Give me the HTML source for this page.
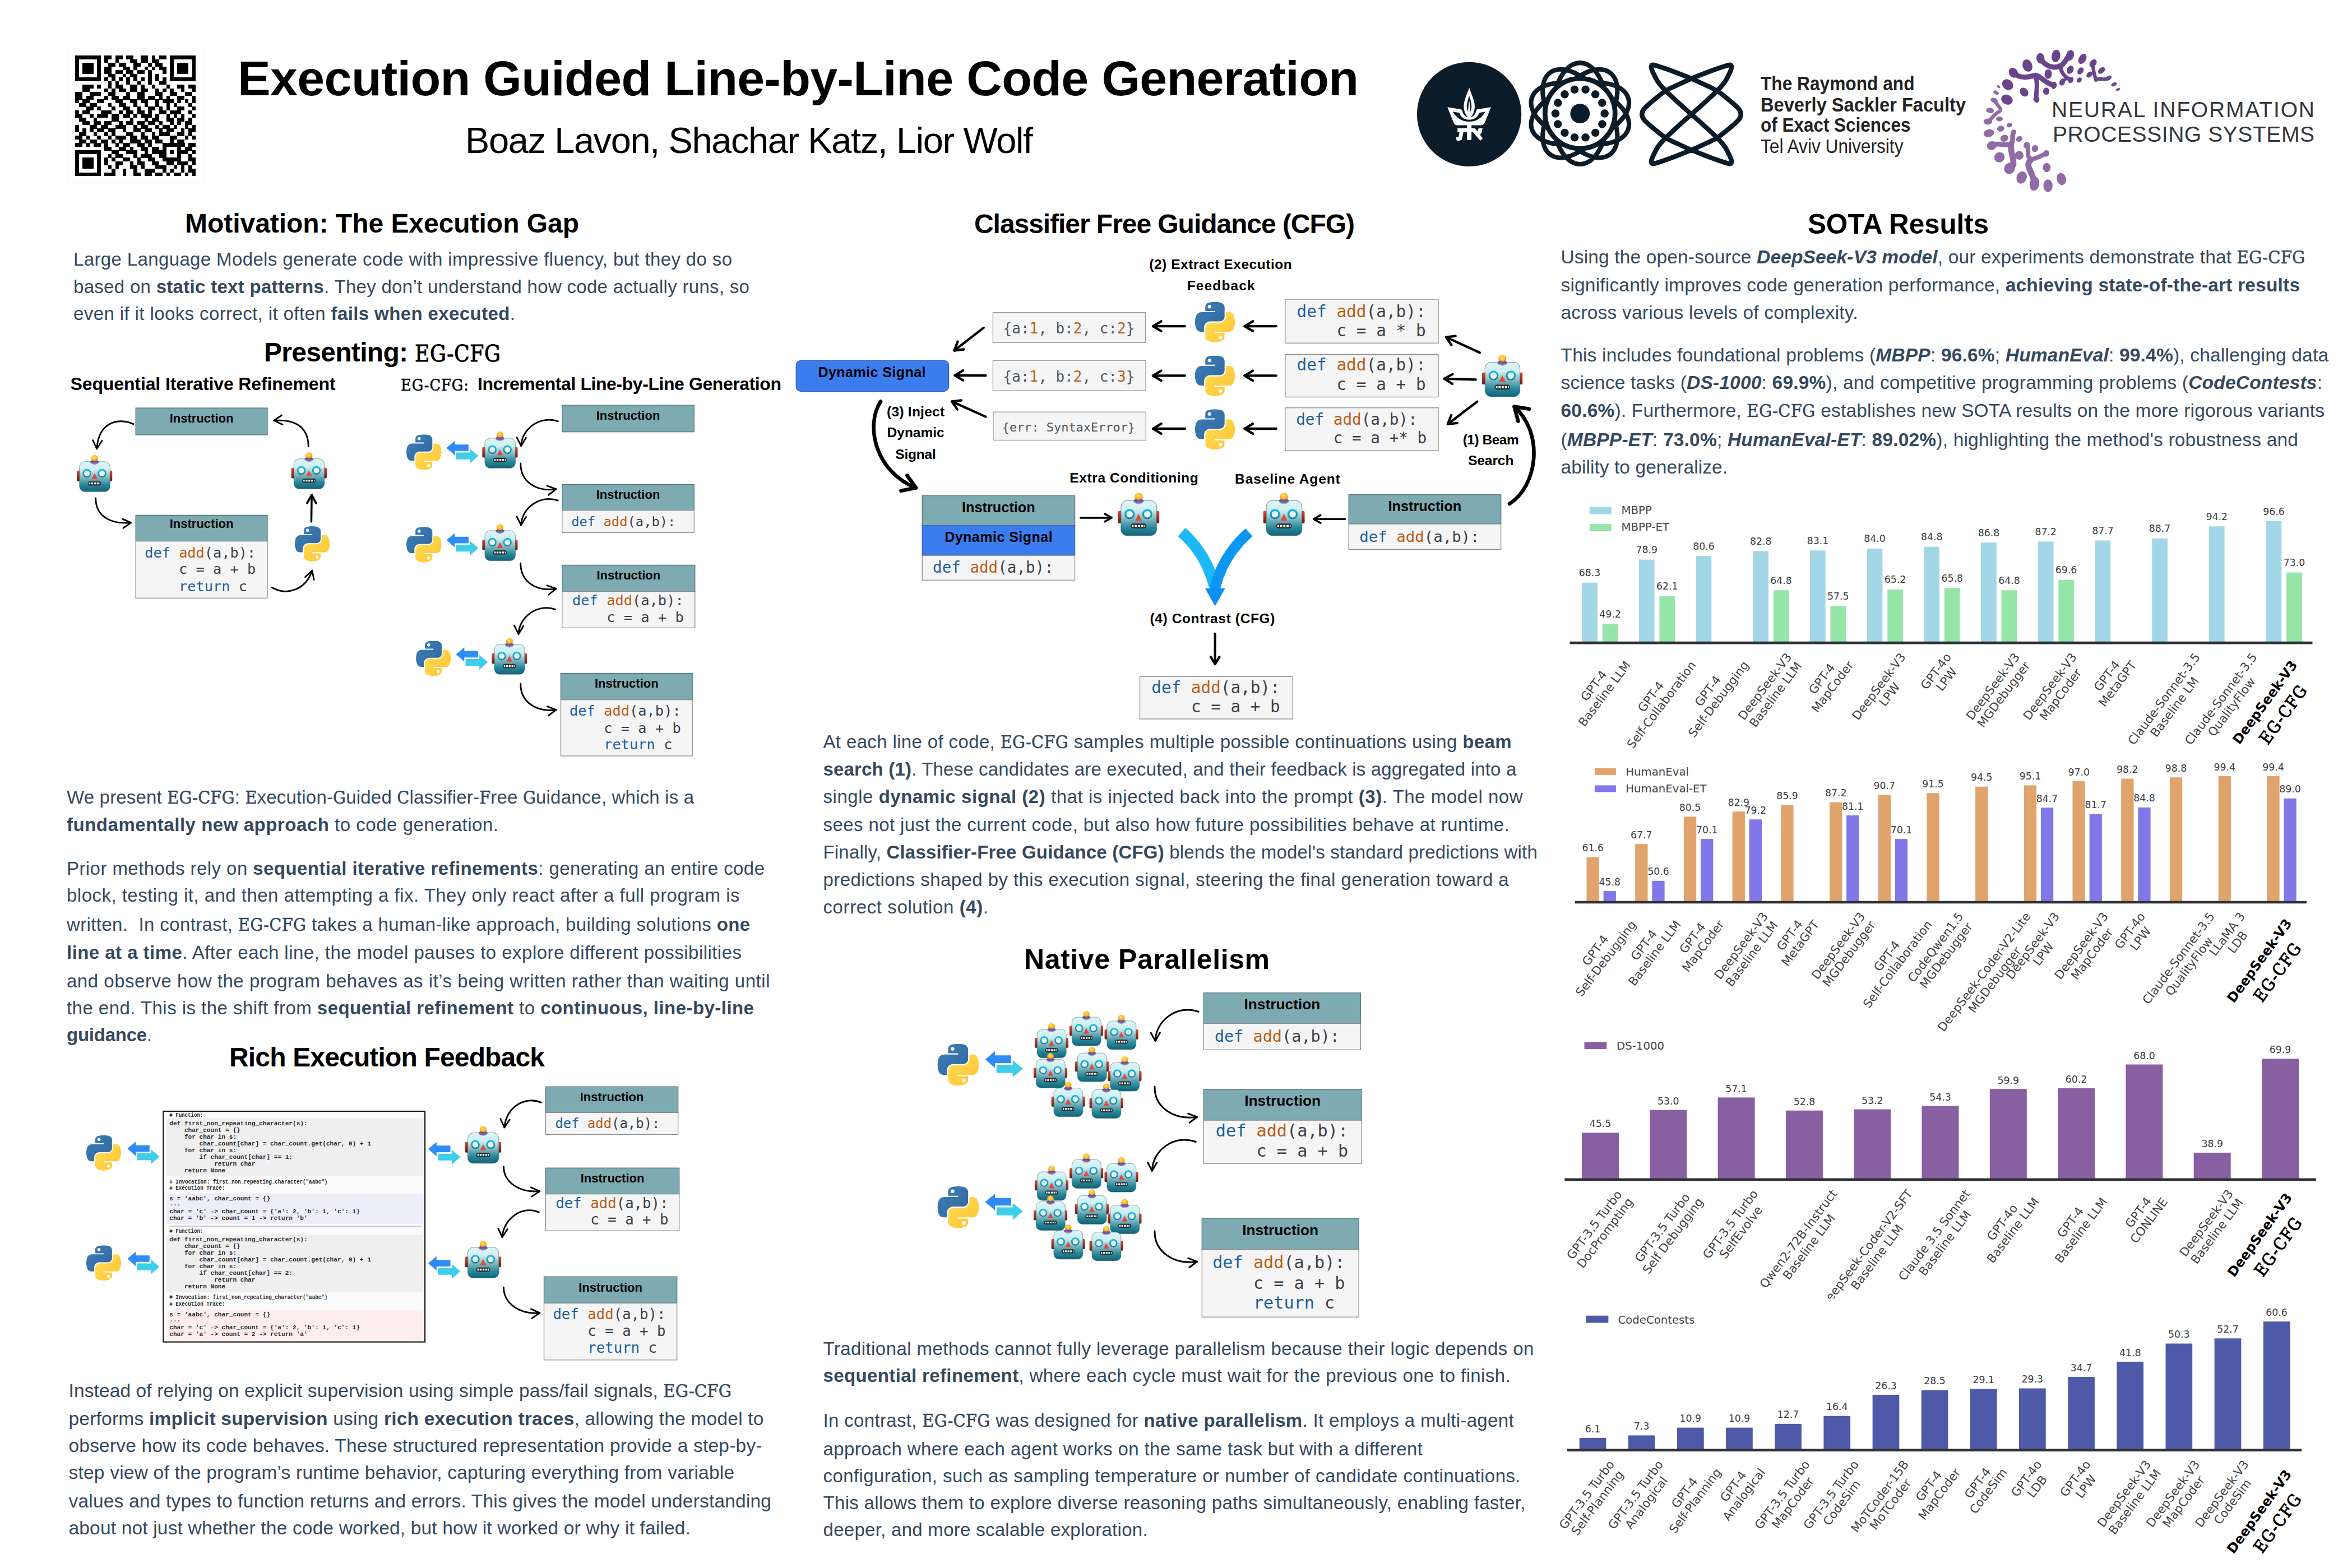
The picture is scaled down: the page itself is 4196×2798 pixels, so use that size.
<!DOCTYPE html>
<html lang="en"><head><meta charset="utf-8"><title>Execution Guided Line-by-Line Code Generation</title>
<style>
html,body{margin:0;padding:0;background:#fff;}
body{font-family:"Liberation Sans", sans-serif;color:#34495e;}
#page{position:relative;width:4196px;height:2798px;overflow:hidden;background:#fff;}
.ln{position:absolute;white-space:nowrap;line-height:1;margin:0;padding:0;}
.ln b{font-weight:700;}
.tt{font-family:"DejaVu Serif Condensed","DejaVu Serif","Liberation Serif",serif;font-stretch:condensed;font-size:0.97em;-webkit-text-stroke:0.55px currentColor;}
.tth{-webkit-text-stroke:0.85px #000;}
.k{color:#000;}
svg#g{position:absolute;left:0;top:0;}
svg text{white-space:pre;}
</style></head><body><div id="page">
<svg id="g" width="4196" height="2798" viewBox="0 0 4196 2798">
<rect x="121.5" y="86" width="241" height="241" rx="3" fill="#fff" stroke="#f6f6f6" stroke-width="1.2"/>
<path d="M134.0 99.0h45.6v6.8h-45.6zM186.1 99.0h13.0v6.8h-13.0zM205.7 99.0h13.0v6.8h-13.0zM225.2 99.0h13.0v6.8h-13.0zM251.3 99.0h13.0v6.8h-13.0zM270.8 99.0h6.5v6.8h-6.5zM283.8 99.0h13.0v6.8h-13.0zM303.4 99.0h45.6v6.8h-45.6zM134.0 105.5h6.5v6.8h-6.5zM173.1 105.5h6.5v6.8h-6.5zM186.1 105.5h6.5v6.8h-6.5zM205.7 105.5h6.5v6.8h-6.5zM231.7 105.5h13.0v6.8h-13.0zM251.3 105.5h13.0v6.8h-13.0zM270.8 105.5h13.0v6.8h-13.0zM303.4 105.5h6.5v6.8h-6.5zM342.5 105.5h6.5v6.8h-6.5zM134.0 112.0h6.5v6.8h-6.5zM147.0 112.0h19.5v6.8h-19.5zM173.1 112.0h6.5v6.8h-6.5zM192.6 112.0h13.0v6.8h-13.0zM212.2 112.0h13.0v6.8h-13.0zM238.2 112.0h13.0v6.8h-13.0zM264.3 112.0h6.5v6.8h-6.5zM277.3 112.0h13.0v6.8h-13.0zM303.4 112.0h6.5v6.8h-6.5zM316.4 112.0h19.5v6.8h-19.5zM342.5 112.0h6.5v6.8h-6.5zM134.0 118.5h6.5v6.8h-6.5zM147.0 118.5h19.5v6.8h-19.5zM173.1 118.5h6.5v6.8h-6.5zM186.1 118.5h13.0v6.8h-13.0zM218.7 118.5h13.0v6.8h-13.0zM238.2 118.5h6.5v6.8h-6.5zM257.8 118.5h6.5v6.8h-6.5zM270.8 118.5h6.5v6.8h-6.5zM283.8 118.5h13.0v6.8h-13.0zM303.4 118.5h6.5v6.8h-6.5zM316.4 118.5h19.5v6.8h-19.5zM342.5 118.5h6.5v6.8h-6.5zM134.0 125.1h6.5v6.8h-6.5zM147.0 125.1h19.5v6.8h-19.5zM173.1 125.1h6.5v6.8h-6.5zM186.1 125.1h13.0v6.8h-13.0zM205.7 125.1h13.0v6.8h-13.0zM225.2 125.1h13.0v6.8h-13.0zM244.8 125.1h13.0v6.8h-13.0zM264.3 125.1h6.5v6.8h-6.5zM290.4 125.1h6.5v6.8h-6.5zM303.4 125.1h6.5v6.8h-6.5zM316.4 125.1h19.5v6.8h-19.5zM342.5 125.1h6.5v6.8h-6.5zM134.0 131.6h6.5v6.8h-6.5zM173.1 131.6h6.5v6.8h-6.5zM192.6 131.6h13.0v6.8h-13.0zM218.7 131.6h6.5v6.8h-6.5zM231.7 131.6h13.0v6.8h-13.0zM264.3 131.6h6.5v6.8h-6.5zM277.3 131.6h6.5v6.8h-6.5zM303.4 131.6h6.5v6.8h-6.5zM342.5 131.6h6.5v6.8h-6.5zM134.0 138.1h45.6v6.8h-45.6zM186.1 138.1h6.5v6.8h-6.5zM199.2 138.1h6.5v6.8h-6.5zM212.2 138.1h6.5v6.8h-6.5zM225.2 138.1h6.5v6.8h-6.5zM238.2 138.1h6.5v6.8h-6.5zM251.3 138.1h6.5v6.8h-6.5zM264.3 138.1h6.5v6.8h-6.5zM277.3 138.1h6.5v6.8h-6.5zM290.4 138.1h6.5v6.8h-6.5zM303.4 138.1h45.6v6.8h-45.6zM192.6 144.6h6.5v6.8h-6.5zM205.7 144.6h6.5v6.8h-6.5zM225.2 144.6h6.5v6.8h-6.5zM244.8 144.6h6.5v6.8h-6.5zM264.3 144.6h6.5v6.8h-6.5zM283.8 144.6h13.0v6.8h-13.0zM147.0 151.1h19.5v6.8h-19.5zM173.1 151.1h6.5v6.8h-6.5zM192.6 151.1h6.5v6.8h-6.5zM205.7 151.1h13.0v6.8h-13.0zM231.7 151.1h13.0v6.8h-13.0zM251.3 151.1h6.5v6.8h-6.5zM270.8 151.1h6.5v6.8h-6.5zM296.9 151.1h6.5v6.8h-6.5zM316.4 151.1h13.0v6.8h-13.0zM336.0 151.1h13.0v6.8h-13.0zM147.0 157.6h13.0v6.8h-13.0zM186.1 157.6h6.5v6.8h-6.5zM199.2 157.6h6.5v6.8h-6.5zM212.2 157.6h13.0v6.8h-13.0zM231.7 157.6h13.0v6.8h-13.0zM251.3 157.6h13.0v6.8h-13.0zM277.3 157.6h6.5v6.8h-6.5zM290.4 157.6h6.5v6.8h-6.5zM303.4 157.6h6.5v6.8h-6.5zM322.9 157.6h6.5v6.8h-6.5zM342.5 157.6h6.5v6.8h-6.5zM134.0 164.2h13.0v6.8h-13.0zM160.1 164.2h19.5v6.8h-19.5zM192.6 164.2h13.0v6.8h-13.0zM225.2 164.2h6.5v6.8h-6.5zM244.8 164.2h13.0v6.8h-13.0zM277.3 164.2h13.0v6.8h-13.0zM303.4 164.2h13.0v6.8h-13.0zM329.5 164.2h13.0v6.8h-13.0zM134.0 170.7h13.0v6.8h-13.0zM153.5 170.7h13.0v6.8h-13.0zM186.1 170.7h6.5v6.8h-6.5zM199.2 170.7h13.0v6.8h-13.0zM218.7 170.7h13.0v6.8h-13.0zM244.8 170.7h13.0v6.8h-13.0zM264.3 170.7h13.0v6.8h-13.0zM283.8 170.7h6.5v6.8h-6.5zM296.9 170.7h6.5v6.8h-6.5zM316.4 170.7h13.0v6.8h-13.0zM342.5 170.7h6.5v6.8h-6.5zM134.0 177.2h6.5v6.8h-6.5zM147.0 177.2h13.0v6.8h-13.0zM173.1 177.2h13.0v6.8h-13.0zM205.7 177.2h13.0v6.8h-13.0zM231.7 177.2h13.0v6.8h-13.0zM251.3 177.2h13.0v6.8h-13.0zM277.3 177.2h6.5v6.8h-6.5zM290.4 177.2h19.5v6.8h-19.5zM316.4 177.2h6.5v6.8h-6.5zM329.5 177.2h6.5v6.8h-6.5zM342.5 177.2h6.5v6.8h-6.5zM140.5 183.7h13.0v6.8h-13.0zM160.1 183.7h13.0v6.8h-13.0zM192.6 183.7h6.5v6.8h-6.5zM212.2 183.7h13.0v6.8h-13.0zM238.2 183.7h6.5v6.8h-6.5zM257.8 183.7h6.5v6.8h-6.5zM277.3 183.7h6.5v6.8h-6.5zM296.9 183.7h6.5v6.8h-6.5zM309.9 183.7h6.5v6.8h-6.5zM336.0 183.7h6.5v6.8h-6.5zM153.5 190.2h13.0v6.8h-13.0zM173.1 190.2h6.5v6.8h-6.5zM199.2 190.2h6.5v6.8h-6.5zM218.7 190.2h13.0v6.8h-13.0zM244.8 190.2h6.5v6.8h-6.5zM264.3 190.2h13.0v6.8h-13.0zM283.8 190.2h6.5v6.8h-6.5zM296.9 190.2h6.5v6.8h-6.5zM316.4 190.2h13.0v6.8h-13.0zM342.5 190.2h6.5v6.8h-6.5zM134.0 196.7h6.5v6.8h-6.5zM147.0 196.7h13.0v6.8h-13.0zM179.6 196.7h19.5v6.8h-19.5zM212.2 196.7h6.5v6.8h-6.5zM225.2 196.7h13.0v6.8h-13.0zM244.8 196.7h13.0v6.8h-13.0zM264.3 196.7h6.5v6.8h-6.5zM283.8 196.7h13.0v6.8h-13.0zM303.4 196.7h19.5v6.8h-19.5zM336.0 196.7h6.5v6.8h-6.5zM134.0 203.2h13.0v6.8h-13.0zM160.1 203.2h6.5v6.8h-6.5zM173.1 203.2h19.5v6.8h-19.5zM199.2 203.2h13.0v6.8h-13.0zM218.7 203.2h13.0v6.8h-13.0zM238.2 203.2h6.5v6.8h-6.5zM251.3 203.2h19.5v6.8h-19.5zM277.3 203.2h6.5v6.8h-6.5zM296.9 203.2h6.5v6.8h-6.5zM309.9 203.2h6.5v6.8h-6.5zM322.9 203.2h6.5v6.8h-6.5zM342.5 203.2h6.5v6.8h-6.5zM140.5 209.8h13.0v6.8h-13.0zM166.6 209.8h6.5v6.8h-6.5zM199.2 209.8h13.0v6.8h-13.0zM231.7 209.8h6.5v6.8h-6.5zM257.8 209.8h6.5v6.8h-6.5zM270.8 209.8h13.0v6.8h-13.0zM296.9 209.8h13.0v6.8h-13.0zM316.4 209.8h13.0v6.8h-13.0zM336.0 209.8h6.5v6.8h-6.5zM147.0 216.3h13.0v6.8h-13.0zM166.6 216.3h13.0v6.8h-13.0zM186.1 216.3h13.0v6.8h-13.0zM212.2 216.3h6.5v6.8h-6.5zM225.2 216.3h13.0v6.8h-13.0zM244.8 216.3h13.0v6.8h-13.0zM264.3 216.3h13.0v6.8h-13.0zM283.8 216.3h6.5v6.8h-6.5zM303.4 216.3h6.5v6.8h-6.5zM316.4 216.3h6.5v6.8h-6.5zM329.5 216.3h13.0v6.8h-13.0zM134.0 222.8h6.5v6.8h-6.5zM160.1 222.8h13.0v6.8h-13.0zM179.6 222.8h13.0v6.8h-13.0zM205.7 222.8h19.5v6.8h-19.5zM238.2 222.8h6.5v6.8h-6.5zM251.3 222.8h13.0v6.8h-13.0zM277.3 222.8h6.5v6.8h-6.5zM290.4 222.8h13.0v6.8h-13.0zM309.9 222.8h6.5v6.8h-6.5zM329.5 222.8h6.5v6.8h-6.5zM342.5 222.8h6.5v6.8h-6.5zM134.0 229.3h6.5v6.8h-6.5zM147.0 229.3h6.5v6.8h-6.5zM160.1 229.3h6.5v6.8h-6.5zM173.1 229.3h13.0v6.8h-13.0zM192.6 229.3h13.0v6.8h-13.0zM218.7 229.3h6.5v6.8h-6.5zM238.2 229.3h13.0v6.8h-13.0zM257.8 229.3h13.0v6.8h-13.0zM283.8 229.3h6.5v6.8h-6.5zM296.9 229.3h13.0v6.8h-13.0zM322.9 229.3h6.5v6.8h-6.5zM336.0 229.3h13.0v6.8h-13.0zM140.5 235.8h13.0v6.8h-13.0zM166.6 235.8h6.5v6.8h-6.5zM186.1 235.8h6.5v6.8h-6.5zM199.2 235.8h6.5v6.8h-6.5zM225.2 235.8h13.0v6.8h-13.0zM251.3 235.8h6.5v6.8h-6.5zM270.8 235.8h6.5v6.8h-6.5zM283.8 235.8h19.5v6.8h-19.5zM316.4 235.8h13.0v6.8h-13.0zM336.0 235.8h6.5v6.8h-6.5zM134.0 242.3h13.0v6.8h-13.0zM153.5 242.3h6.5v6.8h-6.5zM173.1 242.3h6.5v6.8h-6.5zM192.6 242.3h6.5v6.8h-6.5zM205.7 242.3h19.5v6.8h-19.5zM231.7 242.3h13.0v6.8h-13.0zM251.3 242.3h13.0v6.8h-13.0zM270.8 242.3h13.0v6.8h-13.0zM303.4 242.3h13.0v6.8h-13.0zM329.5 242.3h6.5v6.8h-6.5zM342.5 242.3h6.5v6.8h-6.5zM140.5 248.8h13.0v6.8h-13.0zM160.1 248.8h13.0v6.8h-13.0zM179.6 248.8h13.0v6.8h-13.0zM199.2 248.8h6.5v6.8h-6.5zM212.2 248.8h6.5v6.8h-6.5zM231.7 248.8h19.5v6.8h-19.5zM257.8 248.8h13.0v6.8h-13.0zM277.3 248.8h13.0v6.8h-13.0zM303.4 248.8h6.5v6.8h-6.5zM316.4 248.8h13.0v6.8h-13.0zM134.0 255.4h13.0v6.8h-13.0zM153.5 255.4h6.5v6.8h-6.5zM166.6 255.4h13.0v6.8h-13.0zM186.1 255.4h6.5v6.8h-6.5zM205.7 255.4h6.5v6.8h-6.5zM218.7 255.4h13.0v6.8h-13.0zM244.8 255.4h13.0v6.8h-13.0zM264.3 255.4h6.5v6.8h-6.5zM290.4 255.4h39.1v6.8h-39.1zM336.0 255.4h13.0v6.8h-13.0zM186.1 261.9h13.0v6.8h-13.0zM212.2 261.9h13.0v6.8h-13.0zM231.7 261.9h6.5v6.8h-6.5zM251.3 261.9h13.0v6.8h-13.0zM270.8 261.9h13.0v6.8h-13.0zM290.4 261.9h6.5v6.8h-6.5zM316.4 261.9h6.5v6.8h-6.5zM329.5 261.9h13.0v6.8h-13.0zM134.0 268.4h45.6v6.8h-45.6zM199.2 268.4h13.0v6.8h-13.0zM225.2 268.4h19.5v6.8h-19.5zM257.8 268.4h6.5v6.8h-6.5zM270.8 268.4h26.1v6.8h-26.1zM303.4 268.4h6.5v6.8h-6.5zM316.4 268.4h19.5v6.8h-19.5zM342.5 268.4h6.5v6.8h-6.5zM134.0 274.9h6.5v6.8h-6.5zM173.1 274.9h6.5v6.8h-6.5zM192.6 274.9h6.5v6.8h-6.5zM205.7 274.9h13.0v6.8h-13.0zM238.2 274.9h6.5v6.8h-6.5zM251.3 274.9h19.5v6.8h-19.5zM283.8 274.9h13.0v6.8h-13.0zM316.4 274.9h6.5v6.8h-6.5zM336.0 274.9h6.5v6.8h-6.5zM134.0 281.4h6.5v6.8h-6.5zM147.0 281.4h19.5v6.8h-19.5zM173.1 281.4h6.5v6.8h-6.5zM186.1 281.4h6.5v6.8h-6.5zM199.2 281.4h6.5v6.8h-6.5zM218.7 281.4h13.0v6.8h-13.0zM244.8 281.4h6.5v6.8h-6.5zM264.3 281.4h13.0v6.8h-13.0zM290.4 281.4h32.6v6.8h-32.6zM336.0 281.4h13.0v6.8h-13.0zM134.0 287.9h6.5v6.8h-6.5zM147.0 287.9h19.5v6.8h-19.5zM173.1 287.9h6.5v6.8h-6.5zM186.1 287.9h6.5v6.8h-6.5zM205.7 287.9h13.0v6.8h-13.0zM231.7 287.9h6.5v6.8h-6.5zM244.8 287.9h13.0v6.8h-13.0zM270.8 287.9h13.0v6.8h-13.0zM296.9 287.9h13.0v6.8h-13.0zM316.4 287.9h19.5v6.8h-19.5zM342.5 287.9h6.5v6.8h-6.5zM134.0 294.5h6.5v6.8h-6.5zM147.0 294.5h19.5v6.8h-19.5zM173.1 294.5h6.5v6.8h-6.5zM192.6 294.5h6.5v6.8h-6.5zM205.7 294.5h6.5v6.8h-6.5zM231.7 294.5h13.0v6.8h-13.0zM251.3 294.5h6.5v6.8h-6.5zM277.3 294.5h19.5v6.8h-19.5zM309.9 294.5h6.5v6.8h-6.5zM322.9 294.5h6.5v6.8h-6.5zM336.0 294.5h6.5v6.8h-6.5zM134.0 301.0h6.5v6.8h-6.5zM173.1 301.0h6.5v6.8h-6.5zM199.2 301.0h6.5v6.8h-6.5zM218.7 301.0h6.5v6.8h-6.5zM238.2 301.0h6.5v6.8h-6.5zM257.8 301.0h19.5v6.8h-19.5zM290.4 301.0h6.5v6.8h-6.5zM303.4 301.0h6.5v6.8h-6.5zM322.9 301.0h6.5v6.8h-6.5zM336.0 301.0h13.0v6.8h-13.0zM134.0 307.5h45.6v6.8h-45.6zM186.1 307.5h19.5v6.8h-19.5zM218.7 307.5h6.5v6.8h-6.5zM238.2 307.5h13.0v6.8h-13.0zM257.8 307.5h13.0v6.8h-13.0zM277.3 307.5h13.0v6.8h-13.0zM296.9 307.5h6.5v6.8h-6.5zM309.9 307.5h13.0v6.8h-13.0zM329.5 307.5h6.5v6.8h-6.5zM342.5 307.5h6.5v6.8h-6.5z" fill="#000" shape-rendering="crispEdges"/>
<g transform="translate(2510,80) scale(0.26357)">
<circle cx="421.5" cy="470" r="353.5" fill="#0b1c28"/>
<ellipse cx="1171.6" cy="465.1" rx="343" ry="188" transform="rotate(90 1171.6 465.1)" fill="none" stroke="#0b1c28" stroke-width="31"/>
<ellipse cx="1171.6" cy="465.1" rx="343" ry="188" transform="rotate(126 1171.6 465.1)" fill="none" stroke="#0b1c28" stroke-width="31"/>
<ellipse cx="1171.6" cy="465.1" rx="343" ry="188" transform="rotate(162 1171.6 465.1)" fill="none" stroke="#0b1c28" stroke-width="31"/>
<ellipse cx="1171.6" cy="465.1" rx="343" ry="188" transform="rotate(198 1171.6 465.1)" fill="none" stroke="#0b1c28" stroke-width="31"/>
<ellipse cx="1171.6" cy="465.1" rx="343" ry="188" transform="rotate(234 1171.6 465.1)" fill="none" stroke="#0b1c28" stroke-width="31"/>
<circle cx="1171.6" cy="465.1" r="237" fill="#fff" stroke="#0b1c28" stroke-width="33"/>
<circle cx="1171.6" cy="465.1" r="66" fill="#0b1c28"/>
<circle cx="1134.6" cy="302.8" r="27.5" fill="#0b1c28"/>
<circle cx="1067.8" cy="334.9" r="27.5" fill="#0b1c28"/>
<circle cx="1021.6" cy="392.9" r="27.5" fill="#0b1c28"/>
<circle cx="1005.1" cy="465.1" r="27.5" fill="#0b1c28"/>
<circle cx="1021.6" cy="537.3" r="27.5" fill="#0b1c28"/>
<circle cx="1067.8" cy="595.3" r="27.5" fill="#0b1c28"/>
<circle cx="1134.6" cy="627.4" r="27.5" fill="#0b1c28"/>
<circle cx="1208.6" cy="627.4" r="27.5" fill="#0b1c28"/>
<circle cx="1275.4" cy="595.3" r="27.5" fill="#0b1c28"/>
<circle cx="1321.6" cy="537.3" r="27.5" fill="#0b1c28"/>
<circle cx="1338.1" cy="465.1" r="27.5" fill="#0b1c28"/>
<circle cx="1321.6" cy="392.9" r="27.5" fill="#0b1c28"/>
<circle cx="1275.4" cy="334.9" r="27.5" fill="#0b1c28"/>
<circle cx="1208.6" cy="302.8" r="27.5" fill="#0b1c28"/>
<path d="M1925.5 470.5C1952.0 447.0 1975.7 427.0 2005.1 400.1C2034.4 373.2 2077.2 333.9 2101.5 309.3C2125.8 284.6 2137.4 271.3 2150.8 252.3C2164.2 233.2 2174.6 209.0 2181.8 194.9C2188.9 180.8 2191.1 175.6 2193.7 167.8C2196.3 160.0 2197.7 153.2 2197.2 148.1C2196.8 142.9 2195.1 138.5 2191.3 136.8C2187.4 135.1 2187.8 134.2 2174.0 137.9C2160.2 141.5 2132.4 150.4 2108.5 158.6C2084.7 166.8 2061.6 175.5 2031.1 187.1C2000.6 198.8 1959.3 214.4 1925.5 228.7C1891.7 243.0 1857.6 259.1 1828.3 273.0C1799.1 286.9 1777.1 294.8 1750.2 312.1C1723.3 329.4 1691.4 356.5 1667.1 376.9C1642.9 397.2 1617.6 418.6 1604.8 434.2C1592.1 449.8 1590.7 458.4 1590.7 470.5C1590.7 482.6 1592.1 491.2 1604.8 506.8C1617.6 522.4 1642.9 543.8 1667.1 564.1C1691.4 584.5 1723.3 611.6 1750.2 628.9C1777.1 646.2 1799.1 654.1 1828.3 668.0C1857.6 681.9 1891.7 698.0 1925.5 712.3C1959.3 726.6 2000.6 742.2 2031.1 753.9C2061.6 765.5 2084.7 774.2 2108.5 782.4C2132.4 790.6 2160.2 799.5 2174.0 803.1C2187.8 806.8 2187.4 805.9 2191.3 804.2C2195.1 802.5 2196.8 798.1 2197.2 792.9C2197.7 787.8 2196.3 781.0 2193.7 773.2C2191.1 765.4 2188.9 760.2 2181.8 746.1C2174.6 732.0 2164.2 707.8 2150.8 688.7C2137.4 669.7 2125.8 656.4 2101.5 631.7C2077.2 607.1 2034.4 567.8 2005.1 540.9C1975.7 514.0 1952.0 494.0 1925.5 470.5C1899.0 447.0 1875.3 427.0 1845.9 400.1C1816.6 373.2 1773.8 333.9 1749.5 309.3C1725.2 284.6 1713.6 271.3 1700.2 252.3C1686.8 233.2 1676.4 209.0 1669.2 194.9C1662.1 180.8 1659.9 175.6 1657.3 167.8C1654.7 160.0 1653.3 153.2 1653.8 148.1C1654.2 142.9 1655.9 138.5 1659.7 136.8C1663.6 135.1 1663.2 134.2 1677.0 137.9C1690.8 141.5 1718.6 150.4 1742.5 158.6C1766.3 166.8 1789.4 175.5 1819.9 187.1C1850.4 198.8 1891.7 214.4 1925.5 228.7C1959.3 243.0 1993.4 259.1 2022.7 273.0C2051.9 286.9 2073.9 294.8 2100.8 312.1C2127.7 329.4 2159.6 356.5 2183.9 376.9C2208.1 397.2 2233.4 418.6 2246.2 434.2C2258.9 449.8 2260.3 458.4 2260.3 470.5C2260.3 482.6 2258.9 491.2 2246.2 506.8C2233.4 522.4 2208.1 543.8 2183.9 564.1C2159.6 584.5 2127.7 611.6 2100.8 628.9C2073.9 646.2 2051.9 654.1 2022.7 668.0C1993.4 681.9 1959.3 698.0 1925.5 712.3C1891.7 726.6 1850.4 742.2 1819.9 753.9C1789.4 765.5 1766.3 774.2 1742.5 782.4C1718.6 790.6 1690.8 799.5 1677.0 803.1C1663.2 806.8 1663.6 805.9 1659.7 804.2C1655.9 802.5 1654.2 798.1 1653.8 792.9C1653.3 787.8 1654.7 781.0 1657.3 773.2C1659.9 765.4 1662.1 760.2 1669.2 746.1C1676.4 732.0 1686.8 707.8 1700.2 688.7C1713.6 669.7 1725.2 656.4 1749.5 631.7C1773.8 607.1 1816.6 567.8 1845.9 540.9C1875.3 514.0 1899.0 494.0 1925.5 470.5Z" fill="none" stroke="#0b1c28" stroke-width="32" stroke-linejoin="round"/>
</g>
<g transform="translate(2570,145) scale(0.07651)">
<path d="M160 605 L470 655 Q510 665 515 725 Q540 800 612 832 L724 832 Q795 800 820 725 Q825 665 865 655 L1175 605 L1040 945 Q1010 1025 955 1025 L380 1025 Q325 1025 295 945 Z" fill="#fff"/>
<path d="M285 710 L430 735 Q445 745 452 778 Q505 892 668 897 Q830 892 883 778 Q890 745 905 735 L1045 710 Q915 942 668 942 Q420 942 285 710 Z" fill="#0b1c28"/>
<path d="M668 155 C720 300 800 470 797 590 C795 690 752 790 702 835 L634 835 C585 790 543 690 540 590 C538 470 615 300 668 155 Z" fill="#fff"/>
<path d="M668 340 C700 430 725 520 722 590 C720 640 711 680 698 702 L638 702 C625 680 615 640 612 590 C610 520 640 430 668 340Z" fill="#0b1c28"/>
<path d="M668 452 C681 520 690 600 693 702 L643 702 C646 600 655 520 668 452Z" fill="#fff"/>
<rect x="615" y="1020" width="105" height="350" fill="#fff"/>
<path d="M395 1097 H620 V1190 H395 Z" fill="#fff"/>
<path d="M715 1097 H800 L858 1165 L888 1097 H978 L960 1190 Q950 1228 915 1246 L985 1330 L925 1385 L757 1190 H715 Z" fill="#fff"/>
<path d="M440 1188 L532 1188 L496 1370 L380 1395 L360 1310 L420 1300 Z" fill="#fff"/>
</g>
<g transform="translate(3530,80) scale(0.17220)">
<path d="M640 140 C690 230 790 250 850 215 C905 190 890 150 945 110" fill="none" stroke="#6a458c" stroke-width="53" stroke-linecap="round" stroke-linejoin="round"/>
<path d="M850 225 C850 290 900 340 955 365" fill="none" stroke="#6a458c" stroke-width="40" stroke-linecap="round" stroke-linejoin="round"/>
<path d="M360 290 C440 360 520 330 590 315 C650 330 690 400 780 420" fill="none" stroke="#6a458c" stroke-width="53" stroke-linecap="round" stroke-linejoin="round"/>
<path d="M590 330 C620 420 590 480 598 565" fill="none" stroke="#6a458c" stroke-width="46" stroke-linecap="round" stroke-linejoin="round"/>
<path d="M1185 190 C1180 260 1200 310 1215 365 C1260 330 1300 380 1345 345" fill="none" stroke="#6a458c" stroke-width="37" stroke-linecap="round" stroke-linejoin="round"/>
<path d="M866 385 C880 350 920 350 955 365" fill="none" stroke="#6a458c" stroke-width="25" stroke-linecap="round" stroke-linejoin="round"/>
<ellipse cx="800" cy="115" rx="45" ry="65" transform="rotate(-171 800 115)" fill="#6a458c"/>
<ellipse cx="945" cy="110" rx="40" ry="58" transform="rotate(-159 945 110)" fill="#6a458c"/>
<ellipse cx="1075" cy="145" rx="37" ry="57" transform="rotate(-149 1075 145)" fill="#6a458c"/>
<ellipse cx="1185" cy="190" rx="32" ry="45" transform="rotate(-140 1185 190)" fill="#6a458c"/>
<ellipse cx="1273" cy="265" rx="28" ry="42" transform="rotate(-131 1273 265)" fill="#6a458c"/>
<ellipse cx="1345" cy="345" rx="22" ry="35" transform="rotate(-123 1345 345)" fill="#6a458c"/>
<ellipse cx="1402" cy="410" rx="18" ry="32" transform="rotate(-116 1402 410)" fill="#6a458c"/>
<ellipse cx="1443" cy="462" rx="12" ry="22" transform="rotate(-112 1443 462)" fill="#6a458c"/>
<ellipse cx="640" cy="140" rx="42" ry="55" transform="rotate(174 640 140)" fill="#6a458c"/>
<ellipse cx="505" cy="215" rx="50" ry="65" transform="rotate(160 505 215)" fill="#6a458c"/>
<ellipse cx="360" cy="290" rx="45" ry="55" transform="rotate(144 360 290)" fill="#6a458c"/>
<ellipse cx="300" cy="412" rx="52" ry="62" transform="rotate(131 300 412)" fill="#6a458c"/>
<ellipse cx="293" cy="568" rx="50" ry="62" transform="rotate(115 293 568)" fill="#6a458c"/>
<ellipse cx="470" cy="490" rx="40" ry="50" transform="rotate(140 470 490)" fill="#6a458c"/>
<ellipse cx="700" cy="480" rx="33" ry="37" transform="rotate(180 700 480)" fill="#6a458c"/>
<ellipse cx="720" cy="303" rx="38" ry="50" transform="rotate(-177 720 303)" fill="#6a458c"/>
<ellipse cx="948" cy="258" rx="33" ry="45" transform="rotate(-154 948 258)" fill="#6a458c"/>
<ellipse cx="1055" cy="270" rx="28" ry="40" transform="rotate(-144 1055 270)" fill="#6a458c"/>
<ellipse cx="1148" cy="308" rx="25" ry="37" transform="rotate(-135 1148 308)" fill="#6a458c"/>
<ellipse cx="1042" cy="365" rx="23" ry="30" transform="rotate(-139 1042 365)" fill="#6a458c"/>
<ellipse cx="866" cy="385" rx="28" ry="38" transform="rotate(-156 866 385)" fill="#6a458c"/>
<ellipse cx="955" cy="365" rx="25" ry="33" transform="rotate(-147 955 365)" fill="#6a458c"/>
<ellipse cx="780" cy="420" rx="28" ry="38" transform="rotate(-167 780 420)" fill="#6a458c"/>
<ellipse cx="598" cy="565" rx="30" ry="35" transform="rotate(152 598 565)" fill="#6a458c"/>
<path d="M160 575 C200 640 250 660 215 690 C150 720 140 770 95 795" fill="none" stroke="#916ba6" stroke-width="37" stroke-linecap="round" stroke-linejoin="round"/>
<path d="M135 1045 C200 1000 280 1065 340 1020 C365 1000 340 940 362 905" fill="none" stroke="#916ba6" stroke-width="50" stroke-linecap="round" stroke-linejoin="round"/>
<path d="M335 1030 C325 1100 365 1180 360 1240 C350 1260 330 1270 320 1280" fill="none" stroke="#916ba6" stroke-width="62" stroke-linecap="round" stroke-linejoin="round"/>
<path d="M498 1040 C535 1100 480 1150 545 1185 C610 1180 660 1140 700 1125" fill="none" stroke="#916ba6" stroke-width="46" stroke-linecap="round" stroke-linejoin="round"/>
<path d="M540 1190 C470 1260 565 1310 578 1440" fill="none" stroke="#916ba6" stroke-width="62" stroke-linecap="round" stroke-linejoin="round"/>
<ellipse cx="205" cy="433" rx="13" ry="20" transform="rotate(123 205 433)" fill="#916ba6"/>
<ellipse cx="180" cy="495" rx="20" ry="30" transform="rotate(117 180 495)" fill="#916ba6"/>
<ellipse cx="160" cy="575" rx="25" ry="38" transform="rotate(109 160 575)" fill="#916ba6"/>
<ellipse cx="118" cy="680" rx="28" ry="40" transform="rotate(98 118 680)" fill="#916ba6"/>
<ellipse cx="95" cy="795" rx="32" ry="45" transform="rotate(87 95 795)" fill="#916ba6"/>
<ellipse cx="215" cy="768" rx="25" ry="35" transform="rotate(89 215 768)" fill="#916ba6"/>
<ellipse cx="318" cy="832" rx="23" ry="30" transform="rotate(79 318 832)" fill="#916ba6"/>
<ellipse cx="228" cy="868" rx="30" ry="38" transform="rotate(77 228 868)" fill="#916ba6"/>
<ellipse cx="105" cy="915" rx="40" ry="55" transform="rotate(75 105 915)" fill="#916ba6"/>
<ellipse cx="265" cy="968" rx="35" ry="42" transform="rotate(64 265 968)" fill="#916ba6"/>
<ellipse cx="420" cy="975" rx="28" ry="35" transform="rotate(52 420 975)" fill="#916ba6"/>
<ellipse cx="362" cy="905" rx="25" ry="28" transform="rotate(67 362 905)" fill="#916ba6"/>
<ellipse cx="135" cy="1045" rx="45" ry="50" transform="rotate(63 135 1045)" fill="#916ba6"/>
<ellipse cx="215" cy="1165" rx="52" ry="55" transform="rotate(50 215 1165)" fill="#916ba6"/>
<ellipse cx="420" cy="1145" rx="45" ry="45" transform="rotate(36 420 1145)" fill="#916ba6"/>
<ellipse cx="583" cy="1075" rx="33" ry="37" transform="rotate(20 583 1075)" fill="#916ba6"/>
<ellipse cx="498" cy="1040" rx="32" ry="35" transform="rotate(36 498 1040)" fill="#916ba6"/>
<ellipse cx="700" cy="1125" rx="30" ry="35" transform="rotate(0 700 1125)" fill="#916ba6"/>
<ellipse cx="320" cy="1280" rx="55" ry="60" transform="rotate(36 320 1280)" fill="#916ba6"/>
<ellipse cx="445" cy="1375" rx="52" ry="65" transform="rotate(23 445 1375)" fill="#916ba6"/>
<ellipse cx="578" cy="1440" rx="50" ry="72" transform="rotate(10 578 1440)" fill="#916ba6"/>
<ellipse cx="705" cy="1272" rx="40" ry="48" transform="rotate(-1 705 1272)" fill="#916ba6"/>
<ellipse cx="718" cy="1460" rx="48" ry="65" transform="rotate(-1 718 1460)" fill="#916ba6"/>
<ellipse cx="857" cy="1390" rx="48" ry="63" transform="rotate(-14 857 1390)" fill="#916ba6"/>
</g>
<defs>
<linearGradient id="rbHead" x1="0" y1="0" x2="0" y2="1">
 <stop offset="0" stop-color="#dff5f6"/><stop offset="0.28" stop-color="#cfeef0"/><stop offset="0.52" stop-color="#86b9c2"/><stop offset="0.78" stop-color="#25889b"/><stop offset="1" stop-color="#166274"/>
</linearGradient>
<linearGradient id="rbEar" x1="0" y1="0" x2="0" y2="1"><stop offset="0" stop-color="#e2452c"/><stop offset="1" stop-color="#6d1710"/></linearGradient>
<radialGradient id="rbBall" cx="0.45" cy="0.35" r="0.7"><stop offset="0" stop-color="#ffe27a"/><stop offset="0.55" stop-color="#ffb21a"/><stop offset="1" stop-color="#f08a00"/></radialGradient>
<linearGradient id="rbEye" x1="0" y1="0" x2="0" y2="1"><stop offset="0" stop-color="#11c3ea"/><stop offset="1" stop-color="#1a7a9c"/></linearGradient>
<linearGradient id="pyB" x1="0" y1="0" x2="1" y2="1"><stop offset="0" stop-color="#3a7fba"/><stop offset="1" stop-color="#34679a"/></linearGradient>
<linearGradient id="pyY" x1="0" y1="0" x2="1" y2="1"><stop offset="0" stop-color="#ffdf57"/><stop offset="1" stop-color="#ffc331"/></linearGradient>
<linearGradient id="bigY" x1="0" y1="0" x2="0" y2="1"><stop offset="0" stop-color="#29c0f7"/><stop offset="1" stop-color="#0a8df0"/></linearGradient>
<symbol id="robot" viewBox="0 0 100 105">
 <rect x="0" y="44.5" width="12" height="29.5" rx="3.5" fill="url(#rbEar)"/>
 <rect x="88" y="44.5" width="12" height="29.5" rx="3.5" fill="url(#rbEar)"/>
 <circle cx="50" cy="10.7" r="9.8" fill="url(#rbBall)"/>
 <rect x="7.5" y="19.3" width="85.8" height="84.4" rx="15" fill="url(#rbHead)" stroke="#2b7686" stroke-opacity="0.35" stroke-width="1"/>
 <path d="M37.5 21.8 Q39 15.6 44.5 15.4 Q50 19.8 55.5 15.4 Q61 15.6 62.5 21.8 Q50 29.6 37.5 21.8Z" fill="#7b5ca8"/>
 <path d="M37.5 21.8 Q50 29.6 62.5 21.8 Q58 27.6 50 27.9 Q42 27.6 37.5 21.8Z" fill="#4d6c8a" fill-opacity="0.55"/>
 <circle cx="28.4" cy="51.8" r="12.2" fill="url(#rbEye)"/><circle cx="28.4" cy="52.3" r="7.9" fill="#eaf7f9"/>
 <circle cx="70.9" cy="51.8" r="12.2" fill="url(#rbEye)"/><circle cx="70.9" cy="52.3" r="7.9" fill="#eaf7f9"/>
 <path d="M50 51.5 L58 67.2 Q50 69 42 67.2Z" fill="#e2493b"/>
 <rect x="31" y="74.6" width="38" height="12" rx="6" fill="#2b2f33"/>
 <path d="M34.5 78 L38 78 L38 83.2 L34.5 83.2 Q33.2 80.6 34.5 78Z M40.5 78h5.3v5.2h-5.3z M48.3 78h5.3v5.2h-5.3z M56.1 78h5.3v5.2h-5.3z M63.9 78 L65.5 78 Q66.8 80.6 65.5 83.2 L63.9 83.2Z" fill="#f2f2ee"/>
 <rect x="7.5" y="19.3" width="85.8" height="84.4" rx="15" fill="none" stroke="#0e4a58" stroke-opacity="0.35" stroke-width="1.6"/>
</symbol>
<symbol id="python" viewBox="0 0 112 113">
 <path fill="url(#pyB)" d="M54.918785,9.1927421e-4 C50.335132,0.02221727 45.957846,0.41313697 42.106285,1.0946693 30.760069,3.0991731 28.700036,7.2947714 28.700035,15.032169 L28.700035,25.250919 L55.512535,25.250919 L55.512535,28.657169 L28.700035,28.657169 L18.637535,28.657169 C10.845076,28.657169 4.0217762,33.340886 1.8875352,42.250919 C-0.57428478,52.463885 -0.68347278,58.836942 1.8875352,69.500919 C3.7934572,77.438771 8.3450952,83.094669 16.137535,83.094669 L25.356285,83.094669 L25.356285,70.844669 C25.356285,61.994767 33.013429,54.188419 42.106285,54.188419 L68.887535,54.188419 C76.342486,54.188419 82.293785,48.050255 82.293785,40.563419 L82.293785,15.032169 C82.293785,7.7658154 76.163805,2.3073371 68.887535,1.0946693 C64.281548,0.32794397 59.502438,-0.02037903 54.918785,9.1927421e-4 z M40.418785,8.2196693 C43.188333,8.2196693 45.450035,10.518324 45.450035,13.344669 C45.450033,16.160971 43.188333,18.438419 40.418785,18.438419 C37.639309,18.438419 35.387535,16.160971 35.387535,13.344669 C35.387533,10.518324 37.639309,8.2196693 40.418785,8.2196693 z"/>
 <path fill="url(#pyY)" d="M85.637535,28.657169 L85.637535,40.563419 C85.637535,49.793997 77.811779,57.563419 68.887535,57.563419 L42.106285,57.563419 C34.770429,57.563419 28.700035,63.841936 28.700035,71.188419 L28.700035,96.719669 C28.700035,103.98602 35.018565,108.25992 42.106285,110.34467 C50.593697,112.84032 58.732713,113.29135 68.887535,110.34467 C75.637537,108.39032 82.293785,104.45714 82.293785,96.719669 L82.293785,86.500919 L55.512535,86.500919 L55.512535,83.094669 L82.293785,83.094669 L95.700035,83.094669 C103.49249,83.094669 106.39628,77.659263 109.10629,69.500919 C111.90562,61.102159 111.78651,53.025565 109.10629,42.250919 C107.18047,34.493485 103.50235,28.657169 95.700035,28.657169 L85.637535,28.657169 z M70.575035,93.313419 C73.354511,93.313419 75.606285,95.590867 75.606285,98.407169 C75.606283,101.23351 73.354511,103.53217 70.575035,103.53217 C67.805487,103.53217 65.543785,101.23351 65.543785,98.407169 C65.543787,95.590867 67.805487,93.313419 70.575035,93.313419 z"/>
</symbol>
<symbol id="swap" viewBox="0 0 100 70">
 <path d="M0 22 L26 0 L26 11.4 L69 11.4 L69 31.7 L26 31.7 L26 44.7Z" fill="#2f8bf7"/>
 <path d="M100 46.8 L73.2 24.4 L73.2 36.6 L30 36.6 L30 57.7 L73.2 57.7 L73.2 70Z" fill="#3fcdec" stroke="#fff" stroke-width="2.2" paint-order="stroke"/>
</symbol>
</defs>
<rect x="242.2" y="728.0" width="234.8" height="48.0" fill="#7eabb1" stroke="#55747a" stroke-width="1.3"/>
<text x="359.6" y="754.3" font-family="'Liberation Sans', sans-serif" font-size="22" font-weight="bold" text-anchor="middle" fill="#000">Instruction</text>
<use href="#robot" x="137.0" y="811.5" width="63.5" height="66.7"/>
<use href="#robot" x="519.5" y="806.5" width="63.5" height="66.7"/>
<rect x="242.2" y="919.4" width="234.8" height="46.2" fill="#7eabb1" stroke="#55747a" stroke-width="1.3"/>
<text x="359.6" y="941.7" font-family="'Liberation Sans', sans-serif" font-size="22" font-weight="bold" text-anchor="middle" fill="#000">Instruction</text>
<rect x="242.2" y="965.6" width="234.8" height="101.7" fill="#f5f5f5" stroke="#8c8c8c" stroke-width="1.3"/>
<text x="258.2" y="995.1" font-family="'DejaVu Sans Mono', 'Liberation Mono', monospace" font-size="25.3" font-weight="normal" text-anchor="start" fill="#3b4148"><tspan fill="#1b5f9c">def</tspan> <tspan fill="#b85d15">add</tspan>(a,b):</text>
<text x="319.1" y="1024.4" font-family="'DejaVu Sans Mono', 'Liberation Mono', monospace" font-size="25.3" font-weight="normal" text-anchor="start" fill="#3b4148">c = a + b</text>
<text x="319.1" y="1054.8" font-family="'DejaVu Sans Mono', 'Liberation Mono', monospace" font-size="25.3" font-weight="normal" text-anchor="start" fill="#3b4148"><tspan fill="#1b5f9c">return</tspan> c</text>
<use href="#python" x="526.0" y="939.0" width="62.7" height="63.3"/>
<path d="M237.8 756.6 C212.0 745.0 176.0 752.0 172.7 800.8" fill="none" stroke="#000" stroke-width="2.8" stroke-linecap="round"/>
<path d="M165.5 785.4 L172.7 800.8 L181.9 786.5" fill="none" stroke="#000" stroke-width="2.8" stroke-linecap="round" stroke-linejoin="round"/>
<path d="M170.7 888.8 C170.7 922.0 198.0 936.0 233.9 932.7" fill="none" stroke="#000" stroke-width="2.8" stroke-linecap="round"/>
<path d="M219.8 942.3 L233.9 932.7 L218.3 925.9" fill="none" stroke="#000" stroke-width="2.8" stroke-linecap="round" stroke-linejoin="round"/>
<path d="M485.2 1048.2 C512.0 1064.0 546.0 1052.0 556.8 1018.0" fill="none" stroke="#000" stroke-width="2.8" stroke-linecap="round"/>
<path d="M560.2 1034.7 L556.8 1018.0 L544.4 1029.7" fill="none" stroke="#000" stroke-width="2.8" stroke-linecap="round" stroke-linejoin="round"/>
<path d="M550.3 796.9 C550.0 765.0 530.0 747.0 488.5 750.5" fill="none" stroke="#000" stroke-width="2.8" stroke-linecap="round"/>
<path d="M502.6 741.0 L488.5 750.5 L504.0 757.5" fill="none" stroke="#000" stroke-width="2.8" stroke-linecap="round" stroke-linejoin="round"/>
<path d="M555.4 930.9 L556.1 883.0" fill="none" stroke="#000" stroke-width="3.6" stroke-linecap="round"/>
<path d="M563.9 898.1 L556.1 883.0 L547.9 897.9" fill="none" stroke="#000" stroke-width="3.6" stroke-linecap="round" stroke-linejoin="round"/>
<rect x="1002.8" y="723.0" width="235.5" height="47.7" fill="#7eabb1" stroke="#55747a" stroke-width="1.3"/>
<text x="1120.5" y="748.7" font-family="'Liberation Sans', sans-serif" font-size="22" font-weight="bold" text-anchor="middle" fill="#000">Instruction</text>
<rect x="1002.8" y="864.5" width="235.5" height="46.2" fill="#7eabb1" stroke="#55747a" stroke-width="1.3"/>
<text x="1120.5" y="890.0" font-family="'Liberation Sans', sans-serif" font-size="22" font-weight="bold" text-anchor="middle" fill="#000">Instruction</text>
<rect x="1002.8" y="910.7" width="235.5" height="39.8" fill="#f5f5f5" stroke="#8c8c8c" stroke-width="1.3"/>
<text x="1019.2" y="939.3" font-family="'DejaVu Sans Mono', 'Liberation Mono', monospace" font-size="23.8" font-weight="normal" text-anchor="start" fill="#3b4148"><tspan fill="#1b5f9c">def</tspan> <tspan fill="#b85d15">add</tspan>(a,b):</text>
<rect x="1002.8" y="1008.4" width="237.0" height="47.2" fill="#7eabb1" stroke="#55747a" stroke-width="1.3"/>
<text x="1121.3" y="1033.7" font-family="'Liberation Sans', sans-serif" font-size="22" font-weight="bold" text-anchor="middle" fill="#000">Instruction</text>
<rect x="1002.8" y="1055.6" width="237.0" height="64.8" fill="#f5f5f5" stroke="#8c8c8c" stroke-width="1.3"/>
<text x="1021.0" y="1079.6" font-family="'DejaVu Sans Mono', 'Liberation Mono', monospace" font-size="25.4" font-weight="normal" text-anchor="start" fill="#3b4148"><tspan fill="#1b5f9c">def</tspan> <tspan fill="#b85d15">add</tspan>(a,b):</text>
<text x="1082.2" y="1110.2" font-family="'DejaVu Sans Mono', 'Liberation Mono', monospace" font-size="25.4" font-weight="normal" text-anchor="start" fill="#3b4148">c = a + b</text>
<rect x="1000.5" y="1201.5" width="234.7" height="47.2" fill="#7eabb1" stroke="#55747a" stroke-width="1.3"/>
<text x="1117.8" y="1227.0" font-family="'Liberation Sans', sans-serif" font-size="22" font-weight="bold" text-anchor="middle" fill="#000">Instruction</text>
<rect x="1000.5" y="1248.7" width="234.7" height="100.3" fill="#f5f5f5" stroke="#8c8c8c" stroke-width="1.3"/>
<text x="1016.0" y="1277.3" font-family="'DejaVu Sans Mono', 'Liberation Mono', monospace" font-size="25.4" font-weight="normal" text-anchor="start" fill="#3b4148"><tspan fill="#1b5f9c">def</tspan> <tspan fill="#b85d15">add</tspan>(a,b):</text>
<text x="1077.2" y="1307.9" font-family="'DejaVu Sans Mono', 'Liberation Mono', monospace" font-size="25.4" font-weight="normal" text-anchor="start" fill="#3b4148">c = a + b</text>
<text x="1077.2" y="1337.2" font-family="'DejaVu Sans Mono', 'Liberation Mono', monospace" font-size="25.4" font-weight="normal" text-anchor="start" fill="#3b4148"><tspan fill="#1b5f9c">return</tspan> c</text>
<use href="#python" x="725.0" y="775.3" width="63.0" height="63.6"/>
<use href="#swap" x="796.4" y="786.7" width="57.2" height="40.0"/>
<use href="#robot" x="860.2" y="769.4" width="63.5" height="66.7"/>
<use href="#python" x="725.0" y="940.3" width="63.0" height="63.6"/>
<use href="#swap" x="796.4" y="951.3" width="57.2" height="40.0"/>
<use href="#robot" x="860.2" y="934.7" width="63.5" height="66.7"/>
<use href="#python" x="742.1" y="1143.4" width="62.7" height="63.3"/>
<use href="#swap" x="813.5" y="1155.1" width="57.0" height="39.9"/>
<use href="#robot" x="877.3" y="1137.8" width="63.0" height="66.2"/>
<path d="M995.4 751.8 C965.3 740.8 930.9 763.8 929.6 795.7" fill="none" stroke="#000" stroke-width="2.8" stroke-linecap="round"/>
<path d="M922.0 780.5 L929.6 795.7 L938.4 781.2" fill="none" stroke="#000" stroke-width="2.8" stroke-linecap="round" stroke-linejoin="round"/>
<path d="M928.8 826.8 C928.3 858.2 955.1 878.6 992.1 872.7" fill="none" stroke="#000" stroke-width="2.8" stroke-linecap="round"/>
<path d="M978.7 883.2 L992.1 872.7 L976.1 866.9" fill="none" stroke="#000" stroke-width="2.8" stroke-linecap="round" stroke-linejoin="round"/>
<path d="M995.4 893.1 C965.3 882.1 930.9 905.1 929.6 937.0" fill="none" stroke="#000" stroke-width="2.8" stroke-linecap="round"/>
<path d="M922.0 921.8 L929.6 937.0 L938.4 922.5" fill="none" stroke="#000" stroke-width="2.8" stroke-linecap="round" stroke-linejoin="round"/>
<path d="M928.8 1005.1 C928.3 1036.5 955.1 1056.9 992.1 1050.3" fill="none" stroke="#000" stroke-width="2.8" stroke-linecap="round"/>
<path d="M978.9 1061.0 L992.1 1050.3 L976.0 1044.8" fill="none" stroke="#000" stroke-width="2.8" stroke-linecap="round" stroke-linejoin="round"/>
<path d="M990.8 1087.5 C960.7 1076.5 926.3 1099.5 925.0 1131.4" fill="none" stroke="#000" stroke-width="2.8" stroke-linecap="round"/>
<path d="M917.4 1116.2 L925.0 1131.4 L933.8 1116.9" fill="none" stroke="#000" stroke-width="2.8" stroke-linecap="round" stroke-linejoin="round"/>
<path d="M928.8 1219.9 C928.3 1251.3 955.1 1271.7 992.1 1266.6" fill="none" stroke="#000" stroke-width="2.8" stroke-linecap="round"/>
<path d="M978.5 1276.8 L992.1 1266.6 L976.2 1260.5" fill="none" stroke="#000" stroke-width="2.8" stroke-linecap="round" stroke-linejoin="round"/>
<rect x="291.3" y="1983.0" width="466.8" height="411.6" fill="#fbfbfb" stroke="#1c1c1c" stroke-width="2.2"/>
<rect x="297.7" y="1995.8" width="457.3" height="102.5" fill="#efefef"/>
<rect x="297.7" y="2129.6" width="457.3" height="54.4" fill="#eeeefb"/>
<rect x="297.7" y="2203.3" width="457.3" height="102.6" fill="#efefef"/>
<rect x="297.7" y="2337.1" width="457.3" height="55.1" fill="#fdeeed"/>
<path d="M302 2188 H751" stroke="#9a9a9a" stroke-width="1.2"/>
<text x="302.3" y="1992.7" font-family="'Liberation Mono', monospace" font-size="11.1" font-weight="bold" text-anchor="start" fill="#2a2a2a" textLength="60" lengthAdjust="spacingAndGlyphs"># Function:</text>
<text x="302.3" y="2008.0" font-family="'Liberation Mono', monospace" font-size="11.1" font-weight="bold" text-anchor="start" fill="#2a2a2a">def first_non_repeating_character(s):</text>
<text x="328.9" y="2019.9" font-family="'Liberation Mono', monospace" font-size="11.1" font-weight="bold" text-anchor="start" fill="#2a2a2a">char_count = {}</text>
<text x="328.9" y="2031.9" font-family="'Liberation Mono', monospace" font-size="11.1" font-weight="bold" text-anchor="start" fill="#2a2a2a">for char in s:</text>
<text x="355.6" y="2043.8" font-family="'Liberation Mono', monospace" font-size="11.1" font-weight="bold" text-anchor="start" fill="#2a2a2a">char_count[char] = char_count.get(char, 0) + 1</text>
<text x="328.9" y="2055.7" font-family="'Liberation Mono', monospace" font-size="11.1" font-weight="bold" text-anchor="start" fill="#2a2a2a">for char in s:</text>
<text x="355.6" y="2067.7" font-family="'Liberation Mono', monospace" font-size="11.1" font-weight="bold" text-anchor="start" fill="#2a2a2a">if char_count[char] == 1:</text>
<text x="382.2" y="2079.6" font-family="'Liberation Mono', monospace" font-size="11.1" font-weight="bold" text-anchor="start" fill="#2a2a2a">return char</text>
<text x="328.9" y="2091.5" font-family="'Liberation Mono', monospace" font-size="11.1" font-weight="bold" text-anchor="start" fill="#2a2a2a">return None</text>
<text x="302.3" y="2111.5" font-family="'Liberation Mono', monospace" font-size="11.1" font-weight="bold" text-anchor="start" fill="#2a2a2a" textLength="282" lengthAdjust="spacingAndGlyphs"># Invocation: first_non_repeating_character("aabc")</text>
<text x="302.3" y="2123.4" font-family="'Liberation Mono', monospace" font-size="11.1" font-weight="bold" text-anchor="start" fill="#2a2a2a" textLength="99" lengthAdjust="spacingAndGlyphs"># Execution Trace:</text>
<text x="302.3" y="2141.8" font-family="'Liberation Mono', monospace" font-size="11.1" font-weight="bold" text-anchor="start" fill="#2a2a2a">s = 'aabc', char_count = {}</text>
<text x="302.3" y="2151.0" font-family="'Liberation Mono', monospace" font-size="11.1" font-weight="bold" text-anchor="start" fill="#2a2a2a">...</text>
<text x="302.3" y="2165.0" font-family="'Liberation Mono', monospace" font-size="11.1" font-weight="bold" text-anchor="start" fill="#2a2a2a">char = 'c' -&gt; char_count = {'a': 2, 'b': 1, 'c': 1}</text>
<text x="302.3" y="2177.3" font-family="'Liberation Mono', monospace" font-size="11.1" font-weight="bold" text-anchor="start" fill="#2a2a2a">char = 'b' -&gt; count = 1 -&gt; return 'b'</text>
<text x="302.3" y="2200.0" font-family="'Liberation Mono', monospace" font-size="11.1" font-weight="bold" text-anchor="start" fill="#2a2a2a" textLength="60" lengthAdjust="spacingAndGlyphs"># Function:</text>
<text x="302.3" y="2215.3" font-family="'Liberation Mono', monospace" font-size="11.1" font-weight="bold" text-anchor="start" fill="#2a2a2a">def first_non_repeating_character(s):</text>
<text x="328.9" y="2227.2" font-family="'Liberation Mono', monospace" font-size="11.1" font-weight="bold" text-anchor="start" fill="#2a2a2a">char_count = {}</text>
<text x="328.9" y="2239.2" font-family="'Liberation Mono', monospace" font-size="11.1" font-weight="bold" text-anchor="start" fill="#2a2a2a">for char in s:</text>
<text x="355.6" y="2251.1" font-family="'Liberation Mono', monospace" font-size="11.1" font-weight="bold" text-anchor="start" fill="#2a2a2a">char_count[char] = char_count.get(char, 0) + 1</text>
<text x="328.9" y="2263.0" font-family="'Liberation Mono', monospace" font-size="11.1" font-weight="bold" text-anchor="start" fill="#2a2a2a">for char in s:</text>
<text x="355.6" y="2275.0" font-family="'Liberation Mono', monospace" font-size="11.1" font-weight="bold" text-anchor="start" fill="#2a2a2a">if char_count[char] == 2:</text>
<text x="382.2" y="2286.9" font-family="'Liberation Mono', monospace" font-size="11.1" font-weight="bold" text-anchor="start" fill="#2a2a2a">return char</text>
<text x="328.9" y="2298.8" font-family="'Liberation Mono', monospace" font-size="11.1" font-weight="bold" text-anchor="start" fill="#2a2a2a">return None</text>
<text x="302.3" y="2318.4" font-family="'Liberation Mono', monospace" font-size="11.1" font-weight="bold" text-anchor="start" fill="#2a2a2a" textLength="282" lengthAdjust="spacingAndGlyphs"># Invocation: first_non_repeating_character("aabc")</text>
<text x="302.3" y="2330.3" font-family="'Liberation Mono', monospace" font-size="11.1" font-weight="bold" text-anchor="start" fill="#2a2a2a" textLength="99" lengthAdjust="spacingAndGlyphs"># Execution Trace:</text>
<text x="302.3" y="2348.7" font-family="'Liberation Mono', monospace" font-size="11.1" font-weight="bold" text-anchor="start" fill="#2a2a2a">s = 'aabc', char_count = {}</text>
<text x="302.3" y="2357.9" font-family="'Liberation Mono', monospace" font-size="11.1" font-weight="bold" text-anchor="start" fill="#2a2a2a">...</text>
<text x="302.3" y="2371.9" font-family="'Liberation Mono', monospace" font-size="11.1" font-weight="bold" text-anchor="start" fill="#2a2a2a">char = 'c' -&gt; char_count = {'a': 2, 'b': 1, 'c': 1}</text>
<text x="302.3" y="2384.2" font-family="'Liberation Mono', monospace" font-size="11.1" font-weight="bold" text-anchor="start" fill="#2a2a2a">char = 'a' -&gt; count = 2 -&gt; return 'a'</text>
<use href="#python" x="153.9" y="2025.8" width="62.6" height="63.2"/>
<use href="#swap" x="227.3" y="2037.1" width="57.3" height="40.1"/>
<use href="#python" x="153.9" y="2222.3" width="62.6" height="63.2"/>
<use href="#swap" x="227.3" y="2233.6" width="57.3" height="40.1"/>
<use href="#swap" x="763.9" y="2037.7" width="57.4" height="40.2"/>
<use href="#robot" x="829.6" y="2008.9" width="64.6" height="67.8"/>
<use href="#swap" x="763.9" y="2241.7" width="57.4" height="40.2"/>
<use href="#robot" x="829.6" y="2213.5" width="64.6" height="67.8"/>
<rect x="973.5" y="1939.2" width="236.2" height="46.1" fill="#7eabb1" stroke="#55747a" stroke-width="1.3"/>
<text x="1091.6" y="1964.8" font-family="'Liberation Sans', sans-serif" font-size="22" font-weight="bold" text-anchor="middle" fill="#000">Instruction</text>
<rect x="973.5" y="1985.3" width="236.2" height="39.2" fill="#f5f5f5" stroke="#8c8c8c" stroke-width="1.3"/>
<text x="990.4" y="2012.9" font-family="'DejaVu Sans Mono', 'Liberation Mono', monospace" font-size="23.9" font-weight="normal" text-anchor="start" fill="#3b4148"><tspan fill="#1b5f9c">def</tspan> <tspan fill="#b85d15">add</tspan>(a,b):</text>
<rect x="973.5" y="2084.2" width="238.2" height="46.4" fill="#7eabb1" stroke="#55747a" stroke-width="1.3"/>
<text x="1092.6" y="2110.0" font-family="'Liberation Sans', sans-serif" font-size="22" font-weight="bold" text-anchor="middle" fill="#000">Instruction</text>
<rect x="973.5" y="2130.6" width="238.2" height="65.7" fill="#f5f5f5" stroke="#8c8c8c" stroke-width="1.3"/>
<text x="991.4" y="2155.5" font-family="'DejaVu Sans Mono', 'Liberation Mono', monospace" font-size="25.7" font-weight="normal" text-anchor="start" fill="#3b4148"><tspan fill="#1b5f9c">def</tspan> <tspan fill="#b85d15">add</tspan>(a,b):</text>
<text x="1053.3" y="2185.3" font-family="'DejaVu Sans Mono', 'Liberation Mono', monospace" font-size="25.7" font-weight="normal" text-anchor="start" fill="#3b4148">c = a + b</text>
<rect x="970.5" y="2278.2" width="237.2" height="47.1" fill="#7eabb1" stroke="#55747a" stroke-width="1.3"/>
<text x="1089.1" y="2304.7" font-family="'Liberation Sans', sans-serif" font-size="22" font-weight="bold" text-anchor="middle" fill="#000">Instruction</text>
<rect x="970.5" y="2325.3" width="237.2" height="101.5" fill="#f5f5f5" stroke="#8c8c8c" stroke-width="1.3"/>
<text x="986.4" y="2353.5" font-family="'DejaVu Sans Mono', 'Liberation Mono', monospace" font-size="25.7" font-weight="normal" text-anchor="start" fill="#3b4148"><tspan fill="#1b5f9c">def</tspan> <tspan fill="#b85d15">add</tspan>(a,b):</text>
<text x="1048.3" y="2384.3" font-family="'DejaVu Sans Mono', 'Liberation Mono', monospace" font-size="25.7" font-weight="normal" text-anchor="start" fill="#3b4148">c = a + b</text>
<text x="1048.3" y="2414.2" font-family="'DejaVu Sans Mono', 'Liberation Mono', monospace" font-size="25.7" font-weight="normal" text-anchor="start" fill="#3b4148"><tspan fill="#1b5f9c">return</tspan> c</text>
<path d="M965.5 1967.4 C935.7 1954.8 902.5 1976.4 899.9 2011.9" fill="none" stroke="#000" stroke-width="2.8" stroke-linecap="round"/>
<path d="M892.8 1996.5 L899.9 2011.9 L909.2 1997.7" fill="none" stroke="#000" stroke-width="2.8" stroke-linecap="round" stroke-linejoin="round"/>
<path d="M898.5 2081.5 C898.5 2109.0 925.7 2129.0 962.9 2125.6" fill="none" stroke="#000" stroke-width="2.8" stroke-linecap="round"/>
<path d="M948.8 2135.2 L962.9 2125.6 L947.3 2118.7" fill="none" stroke="#000" stroke-width="2.8" stroke-linecap="round" stroke-linejoin="round"/>
<path d="M961.2 2163.1 C932.4 2150.5 898.5 2173.7 895.9 2207.6" fill="none" stroke="#000" stroke-width="2.8" stroke-linecap="round"/>
<path d="M888.8 2192.1 L895.9 2207.6 L905.3 2193.4" fill="none" stroke="#000" stroke-width="2.8" stroke-linecap="round" stroke-linejoin="round"/>
<path d="M898.5 2297.1 C898.5 2325.0 925.7 2346.0 962.9 2342.9" fill="none" stroke="#000" stroke-width="2.8" stroke-linecap="round"/>
<path d="M948.8 2352.3 L962.9 2342.9 L947.4 2335.9" fill="none" stroke="#000" stroke-width="2.8" stroke-linecap="round" stroke-linejoin="round"/>
<text x="2177.5" y="479.7" font-family="'Liberation Sans', sans-serif" font-size="24.5" font-weight="bold" text-anchor="middle" fill="#000" textLength="254.5" lengthAdjust="spacing">(2) Extract Execution</text>
<text x="2178.2" y="517.6" font-family="'Liberation Sans', sans-serif" font-size="24.5" font-weight="bold" text-anchor="middle" fill="#000" textLength="120.8" lengthAdjust="spacing">Feedback</text>
<rect x="1420.2" y="643.3" width="272.4" height="55.0" rx="8.5" fill="#3b7dee" stroke="#2c5fb8" stroke-width="1.2"/>
<text x="1555.5" y="672.7" font-family="'Liberation Sans', sans-serif" font-size="25" font-weight="bold" text-anchor="middle" fill="#000" textLength="192.0" lengthAdjust="spacing">Dynamic Signal</text>
<rect x="1771.4" y="557.6" width="272.1" height="53.8" fill="#f5f5f5" stroke="#9a9a9a" stroke-width="1.3"/>
<text x="1789.5" y="594.8" font-family="'DejaVu Sans Mono', 'Liberation Mono', monospace" font-size="26" font-weight="normal" text-anchor="start" fill="#50555b">{a:<tspan fill="#b85d15">1</tspan>, b:<tspan fill="#b85d15">2</tspan>, c:<tspan fill="#b85d15">2</tspan>}</text>
<rect x="1771.4" y="643.3" width="272.6" height="53.8" fill="#f5f5f5" stroke="#9a9a9a" stroke-width="1.3"/>
<text x="1789.5" y="680.5" font-family="'DejaVu Sans Mono', 'Liberation Mono', monospace" font-size="26" font-weight="normal" text-anchor="start" fill="#50555b">{a:<tspan fill="#b85d15">1</tspan>, b:<tspan fill="#b85d15">2</tspan>, c:<tspan fill="#b85d15">3</tspan>}</text>
<rect x="1772.0" y="735.2" width="272.3" height="50.3" fill="#f5f5f5" stroke="#9a9a9a" stroke-width="1.3"/>
<text x="1787.8" y="769.8" font-family="'DejaVu Sans Mono', 'Liberation Mono', monospace" font-size="21.9" font-weight="normal" text-anchor="start" fill="#50555b">{err: SyntaxError}</text>
<use href="#python" x="2131.8" y="538.7" width="72.0" height="72.6"/>
<use href="#python" x="2131.8" y="634.6" width="72.0" height="72.6"/>
<use href="#python" x="2131.8" y="730.2" width="72.0" height="72.6"/>
<rect x="2292.9" y="534.0" width="273.1" height="78.2" fill="#f5f5f5" stroke="#8c8c8c" stroke-width="1.3"/>
<text x="2313.6" y="565.7" font-family="'DejaVu Sans Mono', 'Liberation Mono', monospace" font-size="29.4" font-weight="normal" text-anchor="start" fill="#3b4148"><tspan fill="#1b5f9c">def</tspan> <tspan fill="#b85d15">add</tspan>(a,b):</text>
<text x="2384.4" y="599.8" font-family="'DejaVu Sans Mono', 'Liberation Mono', monospace" font-size="29.4" font-weight="normal" text-anchor="start" fill="#3b4148">c = a * b</text>
<rect x="2292.9" y="632.4" width="273.1" height="76.1" fill="#f5f5f5" stroke="#8c8c8c" stroke-width="1.3"/>
<text x="2313.6" y="661.3" font-family="'DejaVu Sans Mono', 'Liberation Mono', monospace" font-size="29.4" font-weight="normal" text-anchor="start" fill="#3b4148"><tspan fill="#1b5f9c">def</tspan> <tspan fill="#b85d15">add</tspan>(a,b):</text>
<text x="2384.4" y="696.0" font-family="'DejaVu Sans Mono', 'Liberation Mono', monospace" font-size="29.4" font-weight="normal" text-anchor="start" fill="#3b4148">c = a + b</text>
<rect x="2292.9" y="727.7" width="273.1" height="76.4" fill="#f5f5f5" stroke="#8c8c8c" stroke-width="1.3"/>
<text x="2312.2" y="758.1" font-family="'DejaVu Sans Mono', 'Liberation Mono', monospace" font-size="27.65" font-weight="normal" text-anchor="start" fill="#3b4148"><tspan fill="#1b5f9c">def</tspan> <tspan fill="#b85d15">add</tspan>(a,b):</text>
<text x="2378.8" y="790.7" font-family="'DejaVu Sans Mono', 'Liberation Mono', monospace" font-size="27.65" font-weight="normal" text-anchor="start" fill="#3b4148">c = a +* b</text>
<path d="M2113.8 582.1 L2057.0 582.1" fill="none" stroke="#000" stroke-width="4.3" stroke-linecap="round"/>
<path d="M2071.6 573.3 L2057.0 582.1 L2071.6 590.9" fill="none" stroke="#000" stroke-width="4.3" stroke-linecap="round" stroke-linejoin="round"/>
<path d="M2276.7 582.1 L2220.5 582.1" fill="none" stroke="#000" stroke-width="4.3" stroke-linecap="round"/>
<path d="M2235.1 573.3 L2220.5 582.1 L2235.1 590.9" fill="none" stroke="#000" stroke-width="4.3" stroke-linecap="round" stroke-linejoin="round"/>
<path d="M2113.8 670.3 L2057.0 670.3" fill="none" stroke="#000" stroke-width="4.3" stroke-linecap="round"/>
<path d="M2071.6 661.5 L2057.0 670.3 L2071.6 679.1" fill="none" stroke="#000" stroke-width="4.3" stroke-linecap="round" stroke-linejoin="round"/>
<path d="M2276.7 670.3 L2220.5 670.3" fill="none" stroke="#000" stroke-width="4.3" stroke-linecap="round"/>
<path d="M2235.1 661.5 L2220.5 670.3 L2235.1 679.1" fill="none" stroke="#000" stroke-width="4.3" stroke-linecap="round" stroke-linejoin="round"/>
<path d="M2113.8 765.0 L2057.0 765.0" fill="none" stroke="#000" stroke-width="4.3" stroke-linecap="round"/>
<path d="M2071.6 756.2 L2057.0 765.0 L2071.6 773.8" fill="none" stroke="#000" stroke-width="4.3" stroke-linecap="round" stroke-linejoin="round"/>
<path d="M2276.7 765.0 L2220.5 765.0" fill="none" stroke="#000" stroke-width="4.3" stroke-linecap="round"/>
<path d="M2235.1 756.2 L2220.5 765.0 L2235.1 773.8" fill="none" stroke="#000" stroke-width="4.3" stroke-linecap="round" stroke-linejoin="round"/>
<path d="M1754.8 584.9 L1702.5 625.5" fill="none" stroke="#000" stroke-width="4.3" stroke-linecap="round"/>
<path d="M1708.6 609.6 L1702.5 625.5 L1719.4 623.5" fill="none" stroke="#000" stroke-width="4.3" stroke-linecap="round" stroke-linejoin="round"/>
<path d="M1758.6 670.1 L1703.5 669.8" fill="none" stroke="#000" stroke-width="4.3" stroke-linecap="round"/>
<path d="M1718.1 661.1 L1703.5 669.8 L1718.0 678.6" fill="none" stroke="#000" stroke-width="4.3" stroke-linecap="round" stroke-linejoin="round"/>
<path d="M1758.6 743.6 L1698.2 716.5" fill="none" stroke="#000" stroke-width="4.3" stroke-linecap="round"/>
<path d="M1715.1 714.5 L1698.2 716.5 L1707.9 730.5" fill="none" stroke="#000" stroke-width="4.3" stroke-linecap="round" stroke-linejoin="round"/>
<use href="#robot" x="2643.9" y="632.4" width="72.6" height="76.2"/>
<path d="M2639.9 629.3 L2579.8 601.6" fill="none" stroke="#000" stroke-width="4.3" stroke-linecap="round"/>
<path d="M2596.7 599.7 L2579.8 601.6 L2589.4 615.7" fill="none" stroke="#000" stroke-width="4.3" stroke-linecap="round" stroke-linejoin="round"/>
<path d="M2632.7 677.4 L2576.8 675.9" fill="none" stroke="#000" stroke-width="4.3" stroke-linecap="round"/>
<path d="M2591.6 667.5 L2576.8 675.9 L2591.1 685.0" fill="none" stroke="#000" stroke-width="4.3" stroke-linecap="round" stroke-linejoin="round"/>
<path d="M2635.2 716.8 L2582.8 756.8" fill="none" stroke="#000" stroke-width="4.3" stroke-linecap="round"/>
<path d="M2589.1 741.0 L2582.8 756.8 L2599.7 754.9" fill="none" stroke="#000" stroke-width="4.3" stroke-linecap="round" stroke-linejoin="round"/>
<text x="2659.7" y="793.2" font-family="'Liberation Sans', sans-serif" font-size="24.5" font-weight="bold" text-anchor="middle" fill="#000" textLength="100.0" lengthAdjust="spacing">(1) Beam</text>
<text x="2659.7" y="830.4" font-family="'Liberation Sans', sans-serif" font-size="24.5" font-weight="bold" text-anchor="middle" fill="#000" textLength="81.3" lengthAdjust="spacing">Search</text>
<text x="1633.6" y="743.0" font-family="'Liberation Sans', sans-serif" font-size="24.5" font-weight="bold" text-anchor="middle" fill="#000" textLength="103.0" lengthAdjust="spacing">(3) Inject</text>
<text x="1633.6" y="780.2" font-family="'Liberation Sans', sans-serif" font-size="24.5" font-weight="bold" text-anchor="middle" fill="#000" textLength="102.0" lengthAdjust="spacing">Dynamic</text>
<text x="1633.6" y="818.6" font-family="'Liberation Sans', sans-serif" font-size="24.5" font-weight="bold" text-anchor="middle" fill="#000" textLength="72.5" lengthAdjust="spacing">Signal</text>
<path d="M1571.1 716.2 C1543.0 760.0 1562.0 842.0 1634.0 870.5" fill="none" stroke="#000" stroke-width="6.6" stroke-linecap="round"/>
<path d="M1607.5 875.8 L1634.0 870.5 L1618.4 848.5" fill="none" stroke="#000" stroke-width="6.6" stroke-linecap="round" stroke-linejoin="round"/>
<path d="M2693.0 899.0 C2742.0 868.0 2756.0 775.0 2701.5 725.5" fill="none" stroke="#000" stroke-width="6.6" stroke-linecap="round"/>
<path d="M2728.1 729.8 L2701.5 725.5 L2708.4 751.6" fill="none" stroke="#000" stroke-width="6.6" stroke-linecap="round" stroke-linejoin="round"/>
<rect x="1645.2" y="884.6" width="272.4" height="53.3" fill="#7eabb1" stroke="#55747a" stroke-width="1.3"/>
<text x="1781.4" y="913.7" font-family="'Liberation Sans', sans-serif" font-size="25.3" font-weight="bold" text-anchor="middle" fill="#000">Instruction</text>
<rect x="1645.2" y="937.9" width="272.4" height="53.3" fill="#3b7dee" stroke="#2c5fb8" stroke-width="1.2"/>
<text x="1781.4" y="967.0" font-family="'Liberation Sans', sans-serif" font-size="25" font-weight="bold" text-anchor="middle" fill="#000" textLength="192.4" lengthAdjust="spacing">Dynamic Signal</text>
<rect x="1645.2" y="991.2" width="272.4" height="44.1" fill="#f5f5f5" stroke="#8c8c8c" stroke-width="1.3"/>
<text x="1664.1" y="1021.8" font-family="'DejaVu Sans Mono', 'Liberation Mono', monospace" font-size="27.55" font-weight="normal" text-anchor="start" fill="#3b4148"><tspan fill="#1b5f9c">def</tspan> <tspan fill="#b85d15">add</tspan>(a,b):</text>
<path d="M1927.8 923.9 L1983.0 923.9" fill="none" stroke="#000" stroke-width="3.6" stroke-linecap="round"/>
<path d="M1970.9 930.9 L1983.0 923.9 L1970.9 916.9" fill="none" stroke="#000" stroke-width="3.6" stroke-linecap="round" stroke-linejoin="round"/>
<text x="2023.0" y="861.3" font-family="'Liberation Sans', sans-serif" font-size="24.5" font-weight="bold" text-anchor="middle" fill="#000" textLength="229.3" lengthAdjust="spacing">Extra Conditioning</text>
<text x="2296.9" y="863.3" font-family="'Liberation Sans', sans-serif" font-size="24.5" font-weight="bold" text-anchor="middle" fill="#000" textLength="187.6" lengthAdjust="spacing">Baseline Agent</text>
<use href="#robot" x="1994.2" y="878.8" width="74.2" height="77.9"/>
<use href="#robot" x="2253.5" y="878.8" width="74.2" height="77.9"/>
<path d="M2399.4 926.3 L2343.7 926.3" fill="none" stroke="#000" stroke-width="3.6" stroke-linecap="round"/>
<path d="M2355.8 919.3 L2343.7 926.3 L2355.8 933.3" fill="none" stroke="#000" stroke-width="3.6" stroke-linecap="round" stroke-linejoin="round"/>
<rect x="2406.2" y="882.7" width="271.5" height="52.3" fill="#7eabb1" stroke="#55747a" stroke-width="1.3"/>
<text x="2541.9" y="911.7" font-family="'Liberation Sans', sans-serif" font-size="25.3" font-weight="bold" text-anchor="middle" fill="#000">Instruction</text>
<rect x="2406.2" y="935.0" width="271.5" height="45.6" fill="#f5f5f5" stroke="#8c8c8c" stroke-width="1.3"/>
<text x="2425.2" y="967.0" font-family="'DejaVu Sans Mono', 'Liberation Mono', monospace" font-size="27.4" font-weight="normal" text-anchor="start" fill="#3b4148"><tspan fill="#1b5f9c">def</tspan> <tspan fill="#b85d15">add</tspan>(a,b):</text>
<path d="M2108.1 949.5 Q2152 988 2166.5 1046" fill="none" stroke="#1db9f6" stroke-width="20"/>
<path d="M2228.3 950 Q2183 990 2168.2 1046 L2168 1054" fill="none" stroke="#0c97f3" stroke-width="19"/>
<path d="M2151 1050.5 H2184.5 L2167.7 1080Z" fill="#0b8ff0" stroke="#0b8ff0" stroke-width="1.5" stroke-linejoin="round"/>
<text x="2162.9" y="1112.4" font-family="'Liberation Sans', sans-serif" font-size="24.5" font-weight="bold" text-anchor="middle" fill="#000" textLength="223.0" lengthAdjust="spacing">(4) Contrast (CFG)</text>
<path d="M2167.7 1130.8 L2167.7 1185.0" fill="none" stroke="#000" stroke-width="4.2" stroke-linecap="round"/>
<path d="M2160.0 1172.1 L2167.7 1185.0 L2175.4 1172.1" fill="none" stroke="#000" stroke-width="4.2" stroke-linecap="round" stroke-linejoin="round"/>
<rect x="2033.5" y="1207.4" width="272.9" height="75.6" fill="#f5f5f5" stroke="#8c8c8c" stroke-width="1.3"/>
<text x="2054.3" y="1236.5" font-family="'DejaVu Sans Mono', 'Liberation Mono', monospace" font-size="29.3" font-weight="normal" text-anchor="start" fill="#3b4148"><tspan fill="#1b5f9c">def</tspan> <tspan fill="#b85d15">add</tspan>(a,b):</text>
<text x="2124.9" y="1271.4" font-family="'DejaVu Sans Mono', 'Liberation Mono', monospace" font-size="29.3" font-weight="normal" text-anchor="start" fill="#3b4148">c = a + b</text>
<rect x="2147.4" y="1771.7" width="280.0" height="54.6" fill="#7eabb1" stroke="#55747a" stroke-width="1.3"/>
<text x="2287.4" y="1801.4" font-family="'Liberation Sans', sans-serif" font-size="26.3" font-weight="bold" text-anchor="middle" fill="#000">Instruction</text>
<rect x="2147.4" y="1826.3" width="280.0" height="47.1" fill="#f5f5f5" stroke="#8c8c8c" stroke-width="1.3"/>
<text x="2166.9" y="1858.7" font-family="'DejaVu Sans Mono', 'Liberation Mono', monospace" font-size="28.5" font-weight="normal" text-anchor="start" fill="#3b4148"><tspan fill="#1b5f9c">def</tspan> <tspan fill="#b85d15">add</tspan>(a,b):</text>
<rect x="2147.4" y="1943.8" width="281.6" height="55.3" fill="#7eabb1" stroke="#55747a" stroke-width="1.3"/>
<text x="2288.2" y="1973.4" font-family="'Liberation Sans', sans-serif" font-size="26.3" font-weight="bold" text-anchor="middle" fill="#000">Instruction</text>
<rect x="2147.4" y="1999.1" width="281.6" height="77.1" fill="#f5f5f5" stroke="#8c8c8c" stroke-width="1.3"/>
<text x="2168.8" y="2028.0" font-family="'DejaVu Sans Mono', 'Liberation Mono', monospace" font-size="30.2" font-weight="normal" text-anchor="start" fill="#3b4148"><tspan fill="#1b5f9c">def</tspan> <tspan fill="#b85d15">add</tspan>(a,b):</text>
<text x="2241.5" y="2064.4" font-family="'DejaVu Sans Mono', 'Liberation Mono', monospace" font-size="30.2" font-weight="normal" text-anchor="start" fill="#3b4148">c = a + b</text>
<rect x="2144.3" y="2173.9" width="279.9" height="55.7" fill="#7eabb1" stroke="#55747a" stroke-width="1.3"/>
<text x="2284.2" y="2203.9" font-family="'Liberation Sans', sans-serif" font-size="26.3" font-weight="bold" text-anchor="middle" fill="#000">Instruction</text>
<rect x="2144.3" y="2229.6" width="279.9" height="120.6" fill="#f5f5f5" stroke="#8c8c8c" stroke-width="1.3"/>
<text x="2163.2" y="2263.2" font-family="'DejaVu Sans Mono', 'Liberation Mono', monospace" font-size="30.2" font-weight="normal" text-anchor="start" fill="#3b4148"><tspan fill="#1b5f9c">def</tspan> <tspan fill="#b85d15">add</tspan>(a,b):</text>
<text x="2235.9" y="2299.6" font-family="'DejaVu Sans Mono', 'Liberation Mono', monospace" font-size="30.2" font-weight="normal" text-anchor="start" fill="#3b4148">c = a + b</text>
<text x="2235.9" y="2335.2" font-family="'DejaVu Sans Mono', 'Liberation Mono', monospace" font-size="30.2" font-weight="normal" text-anchor="start" fill="#3b4148"><tspan fill="#1b5f9c">return</tspan> c</text>
<use href="#python" x="1672.5" y="1862.7" width="74.4" height="75.1"/>
<use href="#swap" x="1757.6" y="1875.7" width="67.2" height="47.0"/>
<use href="#robot" x="1907.8" y="1803.4" width="60.5" height="63.5"/>
<use href="#robot" x="1970.3" y="1810.1" width="60.5" height="63.5"/>
<use href="#robot" x="1845.7" y="1825.1" width="60.5" height="63.5"/>
<use href="#robot" x="1917.7" y="1867.4" width="60.5" height="63.5"/>
<use href="#robot" x="1843.8" y="1878.5" width="60.5" height="63.5"/>
<use href="#robot" x="1976.2" y="1884.4" width="60.5" height="63.5"/>
<use href="#robot" x="1875.4" y="1929.9" width="60.5" height="63.5"/>
<use href="#robot" x="1943.4" y="1932.7" width="60.5" height="63.5"/>
<use href="#python" x="1672.5" y="2117.0" width="74.4" height="75.1"/>
<use href="#swap" x="1757.6" y="2130.0" width="67.2" height="47.0"/>
<use href="#robot" x="1907.8" y="2057.7" width="60.5" height="63.5"/>
<use href="#robot" x="1970.3" y="2064.4" width="60.5" height="63.5"/>
<use href="#robot" x="1845.7" y="2079.4" width="60.5" height="63.5"/>
<use href="#robot" x="1917.7" y="2121.7" width="60.5" height="63.5"/>
<use href="#robot" x="1843.8" y="2132.8" width="60.5" height="63.5"/>
<use href="#robot" x="1976.2" y="2138.7" width="60.5" height="63.5"/>
<use href="#robot" x="1875.4" y="2184.2" width="60.5" height="63.5"/>
<use href="#robot" x="1943.4" y="2187.0" width="60.5" height="63.5"/>
<path d="M2138.3 1805.4 C2100.8 1791.5 2061.2 1821.2 2061.2 1857.6" fill="none" stroke="#000" stroke-width="3.0" stroke-linecap="round"/>
<path d="M2053.0 1842.7 L2061.2 1857.6 L2069.4 1842.7" fill="none" stroke="#000" stroke-width="3.0" stroke-linecap="round" stroke-linejoin="round"/>
<path d="M2060.0 1939.0 C2059.3 1975.4 2092.9 1999.1 2135.6 1993.2" fill="none" stroke="#000" stroke-width="3.0" stroke-linecap="round"/>
<path d="M2122.0 2003.4 L2135.6 1993.2 L2119.7 1987.1" fill="none" stroke="#000" stroke-width="3.0" stroke-linecap="round" stroke-linejoin="round"/>
<path d="M2133.2 2037.5 C2094.8 2023.6 2056.1 2052.5 2055.3 2089.3" fill="none" stroke="#000" stroke-width="3.0" stroke-linecap="round"/>
<path d="M2047.4 2074.3 L2055.3 2089.3 L2063.9 2074.6" fill="none" stroke="#000" stroke-width="3.0" stroke-linecap="round" stroke-linejoin="round"/>
<path d="M2060.0 2196.8 C2059.3 2233.2 2092.9 2257.0 2135.6 2251.4" fill="none" stroke="#000" stroke-width="3.0" stroke-linecap="round"/>
<path d="M2121.9 2261.5 L2135.6 2251.4 L2119.8 2245.2" fill="none" stroke="#000" stroke-width="3.0" stroke-linecap="round" stroke-linejoin="round"/>
<rect x="2835.7" y="904.5" width="39.2" height="12.9" fill="#a3d6e7"/>
<text x="2892.6" y="917.3" font-family="'DejaVu Sans',sans-serif" font-size="19.7" fill="#444444">MBPP</text>
<rect x="2835.7" y="935.1" width="39.2" height="12.9" fill="#95e5a8"/>
<text x="2892.6" y="947.3" font-family="'DejaVu Sans',sans-serif" font-size="19.7" fill="#444444">MBPP-ET</text>
<rect x="2822.3" y="1039.7" width="27.6" height="108.5" fill="#a3d6e7"/>
<text x="2836.1" y="1028.2" text-anchor="middle" font-family="'DejaVu Sans',sans-serif" font-size="17.3" fill="#3c3c3c">68.3</text>
<rect x="2924.0" y="998.6" width="27.6" height="149.6" fill="#a3d6e7"/>
<text x="2937.8" y="987.1" text-anchor="middle" font-family="'DejaVu Sans',sans-serif" font-size="17.3" fill="#3c3c3c">78.9</text>
<rect x="3025.7" y="992.0" width="27.6" height="156.2" fill="#a3d6e7"/>
<text x="3039.5" y="980.5" text-anchor="middle" font-family="'DejaVu Sans',sans-serif" font-size="17.3" fill="#3c3c3c">80.6</text>
<rect x="3127.4" y="983.5" width="27.6" height="164.7" fill="#a3d6e7"/>
<text x="3141.2" y="972.0" text-anchor="middle" font-family="'DejaVu Sans',sans-serif" font-size="17.3" fill="#3c3c3c">82.8</text>
<rect x="3229.1" y="982.3" width="27.6" height="165.9" fill="#a3d6e7"/>
<text x="3242.9" y="970.8" text-anchor="middle" font-family="'DejaVu Sans',sans-serif" font-size="17.3" fill="#3c3c3c">83.1</text>
<rect x="3330.8" y="978.8" width="27.6" height="169.4" fill="#a3d6e7"/>
<text x="3344.6" y="967.3" text-anchor="middle" font-family="'DejaVu Sans',sans-serif" font-size="17.3" fill="#3c3c3c">84.0</text>
<rect x="3432.5" y="975.7" width="27.6" height="172.5" fill="#a3d6e7"/>
<text x="3446.3" y="964.2" text-anchor="middle" font-family="'DejaVu Sans',sans-serif" font-size="17.3" fill="#3c3c3c">84.8</text>
<rect x="3534.2" y="968.0" width="27.6" height="180.2" fill="#a3d6e7"/>
<text x="3548.0" y="956.5" text-anchor="middle" font-family="'DejaVu Sans',sans-serif" font-size="17.3" fill="#3c3c3c">86.8</text>
<rect x="3635.9" y="966.4" width="27.6" height="181.8" fill="#a3d6e7"/>
<text x="3649.7" y="954.9" text-anchor="middle" font-family="'DejaVu Sans',sans-serif" font-size="17.3" fill="#3c3c3c">87.2</text>
<rect x="3737.6" y="964.5" width="27.6" height="183.7" fill="#a3d6e7"/>
<text x="3751.4" y="953.0" text-anchor="middle" font-family="'DejaVu Sans',sans-serif" font-size="17.3" fill="#3c3c3c">87.7</text>
<rect x="3839.3" y="960.6" width="27.6" height="187.6" fill="#a3d6e7"/>
<text x="3853.1" y="949.1" text-anchor="middle" font-family="'DejaVu Sans',sans-serif" font-size="17.3" fill="#3c3c3c">88.7</text>
<rect x="3941.0" y="939.3" width="27.6" height="208.9" fill="#a3d6e7"/>
<text x="3954.8" y="927.8" text-anchor="middle" font-family="'DejaVu Sans',sans-serif" font-size="17.3" fill="#3c3c3c">94.2</text>
<rect x="4042.7" y="930.0" width="27.6" height="218.2" fill="#a3d6e7"/>
<text x="4056.5" y="918.5" text-anchor="middle" font-family="'DejaVu Sans',sans-serif" font-size="17.3" fill="#3c3c3c">96.6</text>
<rect x="2858.7" y="1113.8" width="27.6" height="34.4" fill="#95e5a8"/>
<text x="2872.5" y="1102.3" text-anchor="middle" font-family="'DejaVu Sans',sans-serif" font-size="17.3" fill="#3c3c3c">49.2</text>
<rect x="2960.4" y="1063.8" width="27.6" height="84.4" fill="#95e5a8"/>
<text x="2974.2" y="1052.3" text-anchor="middle" font-family="'DejaVu Sans',sans-serif" font-size="17.3" fill="#3c3c3c">62.1</text>
<rect x="3163.8" y="1053.3" width="27.6" height="94.9" fill="#95e5a8"/>
<text x="3177.6" y="1041.8" text-anchor="middle" font-family="'DejaVu Sans',sans-serif" font-size="17.3" fill="#3c3c3c">64.8</text>
<rect x="3265.5" y="1081.6" width="27.6" height="66.6" fill="#95e5a8"/>
<text x="3279.3" y="1070.1" text-anchor="middle" font-family="'DejaVu Sans',sans-serif" font-size="17.3" fill="#3c3c3c">57.5</text>
<rect x="3367.2" y="1051.8" width="27.6" height="96.4" fill="#95e5a8"/>
<text x="3381.0" y="1040.3" text-anchor="middle" font-family="'DejaVu Sans',sans-serif" font-size="17.3" fill="#3c3c3c">65.2</text>
<rect x="3468.9" y="1049.4" width="27.6" height="98.8" fill="#95e5a8"/>
<text x="3482.7" y="1037.9" text-anchor="middle" font-family="'DejaVu Sans',sans-serif" font-size="17.3" fill="#3c3c3c">65.8</text>
<rect x="3570.6" y="1053.3" width="27.6" height="94.9" fill="#95e5a8"/>
<text x="3584.4" y="1041.8" text-anchor="middle" font-family="'DejaVu Sans',sans-serif" font-size="17.3" fill="#3c3c3c">64.8</text>
<rect x="3672.3" y="1034.7" width="27.6" height="113.5" fill="#95e5a8"/>
<text x="3686.1" y="1023.2" text-anchor="middle" font-family="'DejaVu Sans',sans-serif" font-size="17.3" fill="#3c3c3c">69.6</text>
<rect x="4079.1" y="1021.5" width="27.6" height="126.7" fill="#95e5a8"/>
<text x="4092.9" y="1010.0" text-anchor="middle" font-family="'DejaVu Sans',sans-serif" font-size="17.3" fill="#3c3c3c">73.0</text>
<path d="M2800.5 1147.2 H4125.5" stroke="#2e3236" stroke-width="4.7"/>
<text transform="translate(2849.3,1228.0) rotate(-53.0)" text-anchor="middle" font-family="'DejaVu Sans',sans-serif" font-size="21.3" fill="#444444">GPT-4</text>
<text transform="translate(2868.3,1242.4) rotate(-53.0)" text-anchor="middle" font-family="'DejaVu Sans',sans-serif" font-size="21.3" fill="#444444">Baseline LLM</text>
<text transform="translate(2951.0,1247.7) rotate(-53.0)" text-anchor="middle" font-family="'DejaVu Sans',sans-serif" font-size="21.3" fill="#444444">GPT-4</text>
<text transform="translate(2970.0,1262.1) rotate(-53.0)" text-anchor="middle" font-family="'DejaVu Sans',sans-serif" font-size="21.3" fill="#444444">Self-Collaboration</text>
<text transform="translate(3052.7,1237.6) rotate(-53.0)" text-anchor="middle" font-family="'DejaVu Sans',sans-serif" font-size="21.3" fill="#444444">GPT-4</text>
<text transform="translate(3071.7,1251.9) rotate(-53.0)" text-anchor="middle" font-family="'DejaVu Sans',sans-serif" font-size="21.3" fill="#444444">Self-Debugging</text>
<text transform="translate(3154.4,1229.4) rotate(-53.0)" text-anchor="middle" font-family="'DejaVu Sans',sans-serif" font-size="21.3" fill="#444444">DeepSeek-V3</text>
<text transform="translate(3173.4,1243.8) rotate(-53.0)" text-anchor="middle" font-family="'DejaVu Sans',sans-serif" font-size="21.3" fill="#444444">Baseline LLM</text>
<text transform="translate(3256.1,1215.7) rotate(-53.0)" text-anchor="middle" font-family="'DejaVu Sans',sans-serif" font-size="21.3" fill="#444444">GPT-4</text>
<text transform="translate(3275.1,1230.0) rotate(-53.0)" text-anchor="middle" font-family="'DejaVu Sans',sans-serif" font-size="21.3" fill="#444444">MapCoder</text>
<text transform="translate(3357.8,1229.4) rotate(-53.0)" text-anchor="middle" font-family="'DejaVu Sans',sans-serif" font-size="21.3" fill="#444444">DeepSeek-V3</text>
<text transform="translate(3376.8,1243.8) rotate(-53.0)" text-anchor="middle" font-family="'DejaVu Sans',sans-serif" font-size="21.3" fill="#444444">LPW</text>
<text transform="translate(3459.5,1202.3) rotate(-53.0)" text-anchor="middle" font-family="'DejaVu Sans',sans-serif" font-size="21.3" fill="#444444">GPT-4o</text>
<text transform="translate(3478.5,1216.6) rotate(-53.0)" text-anchor="middle" font-family="'DejaVu Sans',sans-serif" font-size="21.3" fill="#444444">LPW</text>
<text transform="translate(3561.2,1229.4) rotate(-53.0)" text-anchor="middle" font-family="'DejaVu Sans',sans-serif" font-size="21.3" fill="#444444">DeepSeek-V3</text>
<text transform="translate(3580.2,1243.8) rotate(-53.0)" text-anchor="middle" font-family="'DejaVu Sans',sans-serif" font-size="21.3" fill="#444444">MGDebugger</text>
<text transform="translate(3662.9,1229.4) rotate(-53.0)" text-anchor="middle" font-family="'DejaVu Sans',sans-serif" font-size="21.3" fill="#444444">DeepSeek-V3</text>
<text transform="translate(3681.9,1243.8) rotate(-53.0)" text-anchor="middle" font-family="'DejaVu Sans',sans-serif" font-size="21.3" fill="#444444">MapCoder</text>
<text transform="translate(3764.6,1210.5) rotate(-53.0)" text-anchor="middle" font-family="'DejaVu Sans',sans-serif" font-size="21.3" fill="#444444">GPT-4</text>
<text transform="translate(3783.6,1224.8) rotate(-53.0)" text-anchor="middle" font-family="'DejaVu Sans',sans-serif" font-size="21.3" fill="#444444">MetaGPT</text>
<text transform="translate(3866.3,1251.6) rotate(-53.0)" text-anchor="middle" font-family="'DejaVu Sans',sans-serif" font-size="21.3" fill="#444444">Claude-Sonnet-3.5</text>
<text transform="translate(3885.3,1266.0) rotate(-53.0)" text-anchor="middle" font-family="'DejaVu Sans',sans-serif" font-size="21.3" fill="#444444">Baseline LM</text>
<text transform="translate(3968.0,1251.6) rotate(-53.0)" text-anchor="middle" font-family="'DejaVu Sans',sans-serif" font-size="21.3" fill="#444444">Claude-Sonnet-3.5</text>
<text transform="translate(3987.0,1266.0) rotate(-53.0)" text-anchor="middle" font-family="'DejaVu Sans',sans-serif" font-size="21.3" fill="#444444">QualityFlow</text>
<text transform="translate(4047.4,1258.0) rotate(-54)" text-anchor="middle" font-family="'DejaVu Sans',sans-serif" font-weight="bold" font-size="23.8" fill="#000">DeepSeek-V3</text>
<text transform="translate(4081.5,1281.2) rotate(-54)" text-anchor="middle" font-family="'DejaVu Serif Condensed','DejaVu Serif',serif" font-size="30" fill="#000" stroke="#000" stroke-width="1.0" textLength="120.5" lengthAdjust="spacing">EG-CFG</text>
<rect x="2844.9" y="1370.8" width="38.0" height="12.0" fill="#e0a36c"/>
<text x="2900.3" y="1383.7" font-family="'DejaVu Sans',sans-serif" font-size="19.7" fill="#444444">HumanEval</text>
<rect x="2844.9" y="1401.4" width="38.0" height="12.0" fill="#8078e8"/>
<text x="2900.3" y="1413.7" font-family="'DejaVu Sans',sans-serif" font-size="19.7" fill="#444444">HumanEval-ET</text>
<rect x="2830.5" y="1529.6" width="22.3" height="81.4" fill="#e0a36c"/>
<text x="2841.7" y="1519.2" text-anchor="middle" font-family="'DejaVu Sans',sans-serif" font-size="17.3" fill="#3c3c3c">61.6</text>
<rect x="2917.2" y="1506.3" width="22.3" height="104.7" fill="#e0a36c"/>
<text x="2928.3" y="1495.9" text-anchor="middle" font-family="'DejaVu Sans',sans-serif" font-size="17.3" fill="#3c3c3c">67.7</text>
<rect x="3003.9" y="1457.3" width="22.3" height="153.7" fill="#e0a36c"/>
<text x="3015.1" y="1446.9" text-anchor="middle" font-family="'DejaVu Sans',sans-serif" font-size="17.3" fill="#3c3c3c">80.5</text>
<rect x="3090.6" y="1448.1" width="22.3" height="162.9" fill="#e0a36c"/>
<text x="3101.8" y="1437.7" text-anchor="middle" font-family="'DejaVu Sans',sans-serif" font-size="17.3" fill="#3c3c3c">82.9</text>
<rect x="3177.3" y="1436.6" width="22.3" height="174.4" fill="#e0a36c"/>
<text x="3188.5" y="1426.2" text-anchor="middle" font-family="'DejaVu Sans',sans-serif" font-size="17.3" fill="#3c3c3c">85.9</text>
<rect x="3264.0" y="1431.6" width="22.3" height="179.4" fill="#e0a36c"/>
<text x="3275.2" y="1421.2" text-anchor="middle" font-family="'DejaVu Sans',sans-serif" font-size="17.3" fill="#3c3c3c">87.2</text>
<rect x="3350.7" y="1418.2" width="22.3" height="192.8" fill="#e0a36c"/>
<text x="3361.8" y="1407.8" text-anchor="middle" font-family="'DejaVu Sans',sans-serif" font-size="17.3" fill="#3c3c3c">90.7</text>
<rect x="3437.4" y="1415.1" width="22.3" height="195.9" fill="#e0a36c"/>
<text x="3448.6" y="1404.7" text-anchor="middle" font-family="'DejaVu Sans',sans-serif" font-size="17.3" fill="#3c3c3c">91.5</text>
<rect x="3524.1" y="1403.7" width="22.3" height="207.3" fill="#e0a36c"/>
<text x="3535.2" y="1393.3" text-anchor="middle" font-family="'DejaVu Sans',sans-serif" font-size="17.3" fill="#3c3c3c">94.5</text>
<rect x="3610.8" y="1401.4" width="22.3" height="209.6" fill="#e0a36c"/>
<text x="3622.0" y="1391.0" text-anchor="middle" font-family="'DejaVu Sans',sans-serif" font-size="17.3" fill="#3c3c3c">95.1</text>
<rect x="3697.5" y="1394.1" width="22.3" height="216.9" fill="#e0a36c"/>
<text x="3708.7" y="1383.7" text-anchor="middle" font-family="'DejaVu Sans',sans-serif" font-size="17.3" fill="#3c3c3c">97.0</text>
<rect x="3784.2" y="1389.5" width="22.3" height="221.5" fill="#e0a36c"/>
<text x="3795.3" y="1379.1" text-anchor="middle" font-family="'DejaVu Sans',sans-serif" font-size="17.3" fill="#3c3c3c">98.2</text>
<rect x="3870.9" y="1387.2" width="22.3" height="223.8" fill="#e0a36c"/>
<text x="3882.1" y="1376.8" text-anchor="middle" font-family="'DejaVu Sans',sans-serif" font-size="17.3" fill="#3c3c3c">98.8</text>
<rect x="3957.6" y="1384.9" width="22.3" height="226.1" fill="#e0a36c"/>
<text x="3968.8" y="1374.5" text-anchor="middle" font-family="'DejaVu Sans',sans-serif" font-size="17.3" fill="#3c3c3c">99.4</text>
<rect x="4044.3" y="1384.9" width="22.3" height="226.1" fill="#e0a36c"/>
<text x="4055.5" y="1374.5" text-anchor="middle" font-family="'DejaVu Sans',sans-serif" font-size="17.3" fill="#3c3c3c">99.4</text>
<rect x="2860.6" y="1590.1" width="22.3" height="20.9" fill="#8078e8"/>
<text x="2871.8" y="1579.7" text-anchor="middle" font-family="'DejaVu Sans',sans-serif" font-size="17.3" fill="#3c3c3c">45.8</text>
<rect x="2947.3" y="1571.8" width="22.3" height="39.2" fill="#8078e8"/>
<text x="2958.4" y="1561.4" text-anchor="middle" font-family="'DejaVu Sans',sans-serif" font-size="17.3" fill="#3c3c3c">50.6</text>
<rect x="3034.0" y="1497.1" width="22.3" height="113.9" fill="#8078e8"/>
<text x="3045.2" y="1486.7" text-anchor="middle" font-family="'DejaVu Sans',sans-serif" font-size="17.3" fill="#3c3c3c">70.1</text>
<rect x="3120.7" y="1462.2" width="22.3" height="148.8" fill="#8078e8"/>
<text x="3131.8" y="1451.8" text-anchor="middle" font-family="'DejaVu Sans',sans-serif" font-size="17.3" fill="#3c3c3c">79.2</text>
<rect x="3294.1" y="1455.0" width="22.3" height="156.0" fill="#8078e8"/>
<text x="3305.2" y="1444.6" text-anchor="middle" font-family="'DejaVu Sans',sans-serif" font-size="17.3" fill="#3c3c3c">81.1</text>
<rect x="3380.8" y="1497.1" width="22.3" height="113.9" fill="#8078e8"/>
<text x="3391.9" y="1486.7" text-anchor="middle" font-family="'DejaVu Sans',sans-serif" font-size="17.3" fill="#3c3c3c">70.1</text>
<rect x="3640.9" y="1441.2" width="22.3" height="169.8" fill="#8078e8"/>
<text x="3652.1" y="1430.8" text-anchor="middle" font-family="'DejaVu Sans',sans-serif" font-size="17.3" fill="#3c3c3c">84.7</text>
<rect x="3727.6" y="1452.7" width="22.3" height="158.3" fill="#8078e8"/>
<text x="3738.8" y="1442.3" text-anchor="middle" font-family="'DejaVu Sans',sans-serif" font-size="17.3" fill="#3c3c3c">81.7</text>
<rect x="3814.3" y="1440.8" width="22.3" height="170.2" fill="#8078e8"/>
<text x="3825.4" y="1430.4" text-anchor="middle" font-family="'DejaVu Sans',sans-serif" font-size="17.3" fill="#3c3c3c">84.8</text>
<rect x="4074.4" y="1424.7" width="22.3" height="186.3" fill="#8078e8"/>
<text x="4085.6" y="1414.3" text-anchor="middle" font-family="'DejaVu Sans',sans-serif" font-size="17.3" fill="#3c3c3c">89.0</text>
<path d="M2809.7 1610.0 H4115.0" stroke="#2e3236" stroke-width="4.7"/>
<text transform="translate(2851.9,1700.4) rotate(-53.0)" text-anchor="middle" font-family="'DejaVu Sans',sans-serif" font-size="21.3" fill="#444444">GPT-4</text>
<text transform="translate(2870.9,1714.7) rotate(-53.0)" text-anchor="middle" font-family="'DejaVu Sans',sans-serif" font-size="21.3" fill="#444444">Self-Debugging</text>
<text transform="translate(2938.6,1690.8) rotate(-53.0)" text-anchor="middle" font-family="'DejaVu Sans',sans-serif" font-size="21.3" fill="#444444">GPT-4</text>
<text transform="translate(2957.6,1705.2) rotate(-53.0)" text-anchor="middle" font-family="'DejaVu Sans',sans-serif" font-size="21.3" fill="#444444">Baseline LLM</text>
<text transform="translate(3025.3,1678.5) rotate(-53.0)" text-anchor="middle" font-family="'DejaVu Sans',sans-serif" font-size="21.3" fill="#444444">GPT-4</text>
<text transform="translate(3044.3,1692.8) rotate(-53.0)" text-anchor="middle" font-family="'DejaVu Sans',sans-serif" font-size="21.3" fill="#444444">MapCoder</text>
<text transform="translate(3112.0,1692.2) rotate(-53.0)" text-anchor="middle" font-family="'DejaVu Sans',sans-serif" font-size="21.3" fill="#444444">DeepSeek-V3</text>
<text transform="translate(3131.0,1706.6) rotate(-53.0)" text-anchor="middle" font-family="'DejaVu Sans',sans-serif" font-size="21.3" fill="#444444">Baseline LLM</text>
<text transform="translate(3198.7,1673.3) rotate(-53.0)" text-anchor="middle" font-family="'DejaVu Sans',sans-serif" font-size="21.3" fill="#444444">GPT-4</text>
<text transform="translate(3217.7,1687.6) rotate(-53.0)" text-anchor="middle" font-family="'DejaVu Sans',sans-serif" font-size="21.3" fill="#444444">MetaGPT</text>
<text transform="translate(3285.4,1692.2) rotate(-53.0)" text-anchor="middle" font-family="'DejaVu Sans',sans-serif" font-size="21.3" fill="#444444">DeepSeek-V3</text>
<text transform="translate(3304.4,1706.6) rotate(-53.0)" text-anchor="middle" font-family="'DejaVu Sans',sans-serif" font-size="21.3" fill="#444444">MGDebugger</text>
<text transform="translate(3372.1,1710.5) rotate(-53.0)" text-anchor="middle" font-family="'DejaVu Sans',sans-serif" font-size="21.3" fill="#444444">GPT-4</text>
<text transform="translate(3391.1,1724.9) rotate(-53.0)" text-anchor="middle" font-family="'DejaVu Sans',sans-serif" font-size="21.3" fill="#444444">Self-Collaboration</text>
<text transform="translate(3458.8,1694.8) rotate(-53.0)" text-anchor="middle" font-family="'DejaVu Sans',sans-serif" font-size="21.3" fill="#444444">CodeQwen1.5</text>
<text transform="translate(3477.8,1709.2) rotate(-53.0)" text-anchor="middle" font-family="'DejaVu Sans',sans-serif" font-size="21.3" fill="#444444">MGDebugger</text>
<text transform="translate(3545.5,1738.8) rotate(-53.0)" text-anchor="middle" font-family="'DejaVu Sans',sans-serif" font-size="21.3" fill="#444444">DeepSeek-Coder-V2-Lite</text>
<text transform="translate(3564.5,1753.1) rotate(-53.0)" text-anchor="middle" font-family="'DejaVu Sans',sans-serif" font-size="21.3" fill="#444444">MGDebugger</text>
<text transform="translate(3632.2,1692.2) rotate(-53.0)" text-anchor="middle" font-family="'DejaVu Sans',sans-serif" font-size="21.3" fill="#444444">DeepSeek-V3</text>
<text transform="translate(3651.2,1706.6) rotate(-53.0)" text-anchor="middle" font-family="'DejaVu Sans',sans-serif" font-size="21.3" fill="#444444">LPW</text>
<text transform="translate(3718.9,1692.2) rotate(-53.0)" text-anchor="middle" font-family="'DejaVu Sans',sans-serif" font-size="21.3" fill="#444444">DeepSeek-V3</text>
<text transform="translate(3737.9,1706.6) rotate(-53.0)" text-anchor="middle" font-family="'DejaVu Sans',sans-serif" font-size="21.3" fill="#444444">MapCoder</text>
<text transform="translate(3805.6,1665.1) rotate(-53.0)" text-anchor="middle" font-family="'DejaVu Sans',sans-serif" font-size="21.3" fill="#444444">GPT-4o</text>
<text transform="translate(3824.6,1679.4) rotate(-53.0)" text-anchor="middle" font-family="'DejaVu Sans',sans-serif" font-size="21.3" fill="#444444">LPW</text>
<text transform="translate(3892.3,1714.4) rotate(-53.0)" text-anchor="middle" font-family="'DejaVu Sans',sans-serif" font-size="21.3" fill="#444444">Claude-Sonnet-3.5</text>
<text transform="translate(3911.3,1728.8) rotate(-53.0)" text-anchor="middle" font-family="'DejaVu Sans',sans-serif" font-size="21.3" fill="#444444">QualityFlow</text>
<text transform="translate(3979.0,1671.2) rotate(-53.0)" text-anchor="middle" font-family="'DejaVu Sans',sans-serif" font-size="21.3" fill="#444444">LLaMA 3</text>
<text transform="translate(3998.0,1685.6) rotate(-53.0)" text-anchor="middle" font-family="'DejaVu Sans',sans-serif" font-size="21.3" fill="#444444">LDB</text>
<text transform="translate(4037.5,1719.2) rotate(-54)" text-anchor="middle" font-family="'DejaVu Sans',sans-serif" font-weight="bold" font-size="23.8" fill="#000">DeepSeek-V3</text>
<text transform="translate(4071.2,1741.2) rotate(-54)" text-anchor="middle" font-family="'DejaVu Serif Condensed','DejaVu Serif',serif" font-size="30" fill="#000" stroke="#000" stroke-width="1.0" textLength="120.5" lengthAdjust="spacing">EG-CFG</text>
<rect x="2826.5" y="1859.3" width="39.8" height="12.8" fill="#885fa0"/>
<text x="2884.1" y="1872.8" font-family="'DejaVu Sans',sans-serif" font-size="19.7" fill="#444444">DS-1000</text>
<clipPath id="c3"><rect x="2770" y="1840" width="1426" height="477.5"/></clipPath><g clip-path="url(#c3)">
<rect x="2822.0" y="2021.2" width="66.0" height="84.6" fill="#885fa0"/>
<text x="2855.0" y="2011.4" text-anchor="middle" font-family="'DejaVu Sans',sans-serif" font-size="17.3" fill="#3c3c3c">45.5</text>
<rect x="2943.3" y="1980.6" width="66.0" height="125.2" fill="#885fa0"/>
<text x="2976.3" y="1970.8" text-anchor="middle" font-family="'DejaVu Sans',sans-serif" font-size="17.3" fill="#3c3c3c">53.0</text>
<rect x="3064.6" y="1958.4" width="66.0" height="147.4" fill="#885fa0"/>
<text x="3097.6" y="1948.6" text-anchor="middle" font-family="'DejaVu Sans',sans-serif" font-size="17.3" fill="#3c3c3c">57.1</text>
<rect x="3185.9" y="1981.7" width="66.0" height="124.1" fill="#885fa0"/>
<text x="3218.9" y="1971.9" text-anchor="middle" font-family="'DejaVu Sans',sans-serif" font-size="17.3" fill="#3c3c3c">52.8</text>
<rect x="3307.2" y="1979.5" width="66.0" height="126.3" fill="#885fa0"/>
<text x="3340.2" y="1969.7" text-anchor="middle" font-family="'DejaVu Sans',sans-serif" font-size="17.3" fill="#3c3c3c">53.2</text>
<rect x="3428.5" y="1973.6" width="66.0" height="132.2" fill="#885fa0"/>
<text x="3461.5" y="1963.8" text-anchor="middle" font-family="'DejaVu Sans',sans-serif" font-size="17.3" fill="#3c3c3c">54.3</text>
<rect x="3549.8" y="1943.3" width="66.0" height="162.5" fill="#885fa0"/>
<text x="3582.8" y="1933.5" text-anchor="middle" font-family="'DejaVu Sans',sans-serif" font-size="17.3" fill="#3c3c3c">59.9</text>
<rect x="3671.1" y="1941.7" width="66.0" height="164.1" fill="#885fa0"/>
<text x="3704.1" y="1931.9" text-anchor="middle" font-family="'DejaVu Sans',sans-serif" font-size="17.3" fill="#3c3c3c">60.2</text>
<rect x="3792.4" y="1899.5" width="66.0" height="206.3" fill="#885fa0"/>
<text x="3825.4" y="1889.7" text-anchor="middle" font-family="'DejaVu Sans',sans-serif" font-size="17.3" fill="#3c3c3c">68.0</text>
<rect x="3913.7" y="2056.9" width="66.0" height="48.9" fill="#885fa0"/>
<text x="3946.7" y="2047.1" text-anchor="middle" font-family="'DejaVu Sans',sans-serif" font-size="17.3" fill="#3c3c3c">38.9</text>
<rect x="4035.0" y="1889.2" width="66.0" height="216.6" fill="#885fa0"/>
<text x="4068.0" y="1879.4" text-anchor="middle" font-family="'DejaVu Sans',sans-serif" font-size="17.3" fill="#3c3c3c">69.9</text>
<path d="M2791.3 2104.8 H4131.8" stroke="#2e3236" stroke-width="4.7"/>
<text transform="translate(2850.2,2190.1) rotate(-53.0)" text-anchor="middle" font-family="'DejaVu Sans',sans-serif" font-size="21.3" fill="#444444">GPT-3.5 Turbo</text>
<text transform="translate(2869.2,2204.5) rotate(-53.0)" text-anchor="middle" font-family="'DejaVu Sans',sans-serif" font-size="21.3" fill="#444444">DocPrompting</text>
<text transform="translate(2971.5,2195.3) rotate(-53.0)" text-anchor="middle" font-family="'DejaVu Sans',sans-serif" font-size="21.3" fill="#444444">GPT-3.5 Turbo</text>
<text transform="translate(2990.5,2209.6) rotate(-53.0)" text-anchor="middle" font-family="'DejaVu Sans',sans-serif" font-size="21.3" fill="#444444">Self Debugging</text>
<text transform="translate(3092.8,2188.9) rotate(-53.0)" text-anchor="middle" font-family="'DejaVu Sans',sans-serif" font-size="21.3" fill="#444444">GPT-3.5 Turbo</text>
<text transform="translate(3111.8,2203.2) rotate(-53.0)" text-anchor="middle" font-family="'DejaVu Sans',sans-serif" font-size="21.3" fill="#444444">SelfEvolve</text>
<text transform="translate(3214.1,2215.1) rotate(-53.0)" text-anchor="middle" font-family="'DejaVu Sans',sans-serif" font-size="21.3" fill="#444444">Qwen2-72B-Instruct</text>
<text transform="translate(3233.1,2229.4) rotate(-53.0)" text-anchor="middle" font-family="'DejaVu Sans',sans-serif" font-size="21.3" fill="#444444">Baseline LLM</text>
<text transform="translate(3335.4,2233.2) rotate(-53.0)" text-anchor="middle" font-family="'DejaVu Sans',sans-serif" font-size="21.3" fill="#444444">DeepSeek-Coder-V2-SFT</text>
<text transform="translate(3354.4,2247.6) rotate(-53.0)" text-anchor="middle" font-family="'DejaVu Sans',sans-serif" font-size="21.3" fill="#444444">Baseline LLM</text>
<text transform="translate(3456.7,2208.5) rotate(-53.0)" text-anchor="middle" font-family="'DejaVu Sans',sans-serif" font-size="21.3" fill="#444444">Claude 3.5 Sonnet</text>
<text transform="translate(3475.7,2222.8) rotate(-53.0)" text-anchor="middle" font-family="'DejaVu Sans',sans-serif" font-size="21.3" fill="#444444">Baseline LLM</text>
<text transform="translate(3578.0,2185.6) rotate(-53.0)" text-anchor="middle" font-family="'DejaVu Sans',sans-serif" font-size="21.3" fill="#444444">GPT-4o</text>
<text transform="translate(3597.0,2200.0) rotate(-53.0)" text-anchor="middle" font-family="'DejaVu Sans',sans-serif" font-size="21.3" fill="#444444">Baseline LLM</text>
<text transform="translate(3699.3,2185.6) rotate(-53.0)" text-anchor="middle" font-family="'DejaVu Sans',sans-serif" font-size="21.3" fill="#444444">GPT-4</text>
<text transform="translate(3718.3,2200.0) rotate(-53.0)" text-anchor="middle" font-family="'DejaVu Sans',sans-serif" font-size="21.3" fill="#444444">Baseline LLM</text>
<text transform="translate(3820.6,2168.0) rotate(-53.0)" text-anchor="middle" font-family="'DejaVu Sans',sans-serif" font-size="21.3" fill="#444444">GPT-4</text>
<text transform="translate(3839.6,2182.4) rotate(-53.0)" text-anchor="middle" font-family="'DejaVu Sans',sans-serif" font-size="21.3" fill="#444444">CONLINE</text>
<text transform="translate(3941.9,2187.0) rotate(-53.0)" text-anchor="middle" font-family="'DejaVu Sans',sans-serif" font-size="21.3" fill="#444444">DeepSeek-V3</text>
<text transform="translate(3960.9,2201.4) rotate(-53.0)" text-anchor="middle" font-family="'DejaVu Sans',sans-serif" font-size="21.3" fill="#444444">Baseline LLM</text>
<text transform="translate(4038.1,2208.4) rotate(-54)" text-anchor="middle" font-family="'DejaVu Sans',sans-serif" font-weight="bold" font-size="23.8" fill="#000">DeepSeek-V3</text>
<text transform="translate(4072.6,2231.0) rotate(-54)" text-anchor="middle" font-family="'DejaVu Serif Condensed','DejaVu Serif',serif" font-size="30" fill="#000" stroke="#000" stroke-width="1.0" textLength="120.5" lengthAdjust="spacing">EG-CFG</text>
</g>
<rect x="2829.6" y="2347.7" width="39.8" height="12.8" fill="#4e5aa8"/>
<text x="2886.5" y="2361.5" font-family="'DejaVu Sans',sans-serif" font-size="19.7" fill="#444444">CodeContests</text>
<rect x="2817.7" y="2565.9" width="47.7" height="22.8" fill="#4e5aa8"/>
<text x="2841.5" y="2555.5" text-anchor="middle" font-family="'DejaVu Sans',sans-serif" font-size="17.3" fill="#3c3c3c">6.1</text>
<rect x="2904.8" y="2561.4" width="47.7" height="27.3" fill="#4e5aa8"/>
<text x="2928.7" y="2551.0" text-anchor="middle" font-family="'DejaVu Sans',sans-serif" font-size="17.3" fill="#3c3c3c">7.3</text>
<rect x="2992.0" y="2547.6" width="47.7" height="41.1" fill="#4e5aa8"/>
<text x="3015.8" y="2537.2" text-anchor="middle" font-family="'DejaVu Sans',sans-serif" font-size="17.3" fill="#3c3c3c">10.9</text>
<rect x="3079.1" y="2547.6" width="47.7" height="41.1" fill="#4e5aa8"/>
<text x="3102.9" y="2537.2" text-anchor="middle" font-family="'DejaVu Sans',sans-serif" font-size="17.3" fill="#3c3c3c">10.9</text>
<rect x="3166.2" y="2540.8" width="47.7" height="47.9" fill="#4e5aa8"/>
<text x="3190.1" y="2530.4" text-anchor="middle" font-family="'DejaVu Sans',sans-serif" font-size="17.3" fill="#3c3c3c">12.7</text>
<rect x="3253.4" y="2526.7" width="47.7" height="62.0" fill="#4e5aa8"/>
<text x="3277.2" y="2516.3" text-anchor="middle" font-family="'DejaVu Sans',sans-serif" font-size="17.3" fill="#3c3c3c">16.4</text>
<rect x="3340.6" y="2488.9" width="47.7" height="99.8" fill="#4e5aa8"/>
<text x="3364.4" y="2478.5" text-anchor="middle" font-family="'DejaVu Sans',sans-serif" font-size="17.3" fill="#3c3c3c">26.3</text>
<rect x="3427.7" y="2480.6" width="47.7" height="108.1" fill="#4e5aa8"/>
<text x="3451.6" y="2470.2" text-anchor="middle" font-family="'DejaVu Sans',sans-serif" font-size="17.3" fill="#3c3c3c">28.5</text>
<rect x="3514.8" y="2478.3" width="47.7" height="110.4" fill="#4e5aa8"/>
<text x="3538.7" y="2467.9" text-anchor="middle" font-family="'DejaVu Sans',sans-serif" font-size="17.3" fill="#3c3c3c">29.1</text>
<rect x="3602.0" y="2477.5" width="47.7" height="111.2" fill="#4e5aa8"/>
<text x="3625.8" y="2467.1" text-anchor="middle" font-family="'DejaVu Sans',sans-serif" font-size="17.3" fill="#3c3c3c">29.3</text>
<rect x="3689.2" y="2456.9" width="47.7" height="131.8" fill="#4e5aa8"/>
<text x="3713.0" y="2446.5" text-anchor="middle" font-family="'DejaVu Sans',sans-serif" font-size="17.3" fill="#3c3c3c">34.7</text>
<rect x="3776.3" y="2429.9" width="47.7" height="158.8" fill="#4e5aa8"/>
<text x="3800.2" y="2419.5" text-anchor="middle" font-family="'DejaVu Sans',sans-serif" font-size="17.3" fill="#3c3c3c">41.8</text>
<rect x="3863.5" y="2397.5" width="47.7" height="191.2" fill="#4e5aa8"/>
<text x="3887.3" y="2387.1" text-anchor="middle" font-family="'DejaVu Sans',sans-serif" font-size="17.3" fill="#3c3c3c">50.3</text>
<rect x="3950.6" y="2388.3" width="47.7" height="200.4" fill="#4e5aa8"/>
<text x="3974.4" y="2377.9" text-anchor="middle" font-family="'DejaVu Sans',sans-serif" font-size="17.3" fill="#3c3c3c">52.7</text>
<rect x="4037.8" y="2358.2" width="47.7" height="230.5" fill="#4e5aa8"/>
<text x="4061.6" y="2347.8" text-anchor="middle" font-family="'DejaVu Sans',sans-serif" font-size="17.3" fill="#3c3c3c">60.6</text>
<path d="M2795.9 2587.7 H4106.2" stroke="#2e3236" stroke-width="4.7"/>
<text transform="translate(2836.7,2671.8) rotate(-53.0)" text-anchor="middle" font-family="'DejaVu Sans',sans-serif" font-size="21.3" fill="#444444">GPT-3.5 Turbo</text>
<text transform="translate(2855.7,2686.1) rotate(-53.0)" text-anchor="middle" font-family="'DejaVu Sans',sans-serif" font-size="21.3" fill="#444444">Self-Planning</text>
<text transform="translate(2923.8,2671.8) rotate(-53.0)" text-anchor="middle" font-family="'DejaVu Sans',sans-serif" font-size="21.3" fill="#444444">GPT-3.5 Turbo</text>
<text transform="translate(2942.9,2686.1) rotate(-53.0)" text-anchor="middle" font-family="'DejaVu Sans',sans-serif" font-size="21.3" fill="#444444">Analogical</text>
<text transform="translate(3011.0,2668.2) rotate(-53.0)" text-anchor="middle" font-family="'DejaVu Sans',sans-serif" font-size="21.3" fill="#444444">GPT-4</text>
<text transform="translate(3030.0,2682.5) rotate(-53.0)" text-anchor="middle" font-family="'DejaVu Sans',sans-serif" font-size="21.3" fill="#444444">Self-Planning</text>
<text transform="translate(3098.1,2656.9) rotate(-53.0)" text-anchor="middle" font-family="'DejaVu Sans',sans-serif" font-size="21.3" fill="#444444">GPT-4</text>
<text transform="translate(3117.2,2671.3) rotate(-53.0)" text-anchor="middle" font-family="'DejaVu Sans',sans-serif" font-size="21.3" fill="#444444">Analogical</text>
<text transform="translate(3185.3,2671.8) rotate(-53.0)" text-anchor="middle" font-family="'DejaVu Sans',sans-serif" font-size="21.3" fill="#444444">GPT-3.5 Turbo</text>
<text transform="translate(3204.3,2686.1) rotate(-53.0)" text-anchor="middle" font-family="'DejaVu Sans',sans-serif" font-size="21.3" fill="#444444">MapCoder</text>
<text transform="translate(3272.4,2671.8) rotate(-53.0)" text-anchor="middle" font-family="'DejaVu Sans',sans-serif" font-size="21.3" fill="#444444">GPT-3.5 Turbo</text>
<text transform="translate(3291.5,2686.1) rotate(-53.0)" text-anchor="middle" font-family="'DejaVu Sans',sans-serif" font-size="21.3" fill="#444444">CodeSim</text>
<text transform="translate(3359.6,2674.6) rotate(-53.0)" text-anchor="middle" font-family="'DejaVu Sans',sans-serif" font-size="21.3" fill="#444444">MoTCoder-15B</text>
<text transform="translate(3378.6,2689.0) rotate(-53.0)" text-anchor="middle" font-family="'DejaVu Sans',sans-serif" font-size="21.3" fill="#444444">MoTCoder</text>
<text transform="translate(3446.7,2656.2) rotate(-53.0)" text-anchor="middle" font-family="'DejaVu Sans',sans-serif" font-size="21.3" fill="#444444">GPT-4</text>
<text transform="translate(3465.8,2670.5) rotate(-53.0)" text-anchor="middle" font-family="'DejaVu Sans',sans-serif" font-size="21.3" fill="#444444">MapCoder</text>
<text transform="translate(3533.9,2650.8) rotate(-53.0)" text-anchor="middle" font-family="'DejaVu Sans',sans-serif" font-size="21.3" fill="#444444">GPT-4</text>
<text transform="translate(3552.9,2665.1) rotate(-53.0)" text-anchor="middle" font-family="'DejaVu Sans',sans-serif" font-size="21.3" fill="#444444">CodeSim</text>
<text transform="translate(3621.0,2642.8) rotate(-53.0)" text-anchor="middle" font-family="'DejaVu Sans',sans-serif" font-size="21.3" fill="#444444">GPT-4o</text>
<text transform="translate(3640.1,2657.1) rotate(-53.0)" text-anchor="middle" font-family="'DejaVu Sans',sans-serif" font-size="21.3" fill="#444444">LDB</text>
<text transform="translate(3708.2,2642.8) rotate(-53.0)" text-anchor="middle" font-family="'DejaVu Sans',sans-serif" font-size="21.3" fill="#444444">GPT-4o</text>
<text transform="translate(3727.2,2657.1) rotate(-53.0)" text-anchor="middle" font-family="'DejaVu Sans',sans-serif" font-size="21.3" fill="#444444">LPW</text>
<text transform="translate(3795.3,2669.9) rotate(-53.0)" text-anchor="middle" font-family="'DejaVu Sans',sans-serif" font-size="21.3" fill="#444444">DeepSeek-V3</text>
<text transform="translate(3814.4,2684.3) rotate(-53.0)" text-anchor="middle" font-family="'DejaVu Sans',sans-serif" font-size="21.3" fill="#444444">Baseline LLM</text>
<text transform="translate(3882.5,2669.9) rotate(-53.0)" text-anchor="middle" font-family="'DejaVu Sans',sans-serif" font-size="21.3" fill="#444444">DeepSeek-V3</text>
<text transform="translate(3901.5,2684.3) rotate(-53.0)" text-anchor="middle" font-family="'DejaVu Sans',sans-serif" font-size="21.3" fill="#444444">MapCoder</text>
<text transform="translate(3969.6,2669.9) rotate(-53.0)" text-anchor="middle" font-family="'DejaVu Sans',sans-serif" font-size="21.3" fill="#444444">DeepSeek-V3</text>
<text transform="translate(3988.7,2684.3) rotate(-53.0)" text-anchor="middle" font-family="'DejaVu Sans',sans-serif" font-size="21.3" fill="#444444">CodeSim</text>
<text transform="translate(4037.2,2702.1) rotate(-54)" text-anchor="middle" font-family="'DejaVu Sans',sans-serif" font-weight="bold" font-size="23.8" fill="#000">DeepSeek-V3</text>
<text transform="translate(4071.5,2724.3) rotate(-54)" text-anchor="middle" font-family="'DejaVu Serif Condensed','DejaVu Serif',serif" font-size="30" fill="#000" stroke="#000" stroke-width="1.0" textLength="120.5" lengthAdjust="spacing">EG-CFG</text>
</svg>
<div class="ln " id="l0" style="left:424.0px;top:96.0px;font-size:88px;color:#000;letter-spacing:-0.661px;"><b>Execution Guided Line-by-Line Code Generation</b></div>
<div class="ln " id="l1" style="left:830.0px;top:217.5px;font-size:65px;color:#000;letter-spacing:-1.413px;">Boaz Lavon, Shachar Katz, Lior Wolf</div>
<div class="ln " id="l2" style="left:330.0px;top:374.9px;font-size:48px;color:#000;letter-spacing:-0.037px;"><b>Motivation: The Execution Gap</b></div>
<div class="ln " id="l3" style="left:471.0px;top:604.9px;font-size:48px;color:#000;letter-spacing:-0.705px;"><b>Presenting:</b></div>
<div class="ln " id="l4" style="left:740.0px;top:610.4px;font-size:41.5px;color:#000;letter-spacing:0.581px;"><span class="tt tth">EG-CFG</span></div>
<div class="ln " id="l5" style="left:125.5px;top:669.4px;font-size:32px;color:#000;letter-spacing:-0.119px;"><b>Sequential Iterative Refinement</b></div>
<div class="ln " id="l6" style="left:715.0px;top:671.5px;font-size:29.5px;color:#000;letter-spacing:0.938px;"><span class="tt" style="-webkit-text-stroke:0.5px #000">EG-CFG:</span></div>
<div class="ln " id="l7" style="left:852.0px;top:669.4px;font-size:32px;color:#000;letter-spacing:-0.428px;"><b>Incremental Line-by-Line Generation</b></div>
<div class="ln " id="l8" style="left:409.0px;top:1863.4px;font-size:48px;color:#000;letter-spacing:-0.842px;"><b>Rich Execution Feedback</b></div>
<div class="ln " id="l9" style="left:1738.0px;top:375.9px;font-size:48px;color:#000;letter-spacing:-1.053px;"><b>Classifier Free Guidance (CFG)</b></div>
<div class="ln " id="l10" style="left:1827.0px;top:1687.2px;font-size:50px;color:#000;letter-spacing:0.586px;"><b>Native Parallelism</b></div>
<div class="ln " id="l11" style="left:3225.0px;top:374.6px;font-size:49.5px;color:#000;letter-spacing:-0.142px;"><b>SOTA Results</b></div>
<div class="ln " id="l12" style="left:131.0px;top:446.4px;font-size:33px;letter-spacing:0.368px;">Large Language Models generate code with impressive fluency, but they do so</div>
<div class="ln " id="l13" style="left:131.0px;top:494.8px;font-size:33px;letter-spacing:0.300px;">based on <b>static text patterns</b>. They don’t understand how code actually runs, so</div>
<div class="ln " id="l14" style="left:131.0px;top:542.9px;font-size:33px;letter-spacing:0.395px;">even if it looks correct, it often <b>fails when executed</b>.</div>
<div class="ln " id="l15" style="left:119.0px;top:1406.4px;font-size:33px;letter-spacing:0.178px;">We present <span class="tt">EG-CFG</span>: <span class="tt">E</span>xecution-<span class="tt">G</span>uided <span class="tt">C</span>lassifier-<span class="tt">F</span>ree <span class="tt">G</span>uidance, which is a</div>
<div class="ln " id="l16" style="left:119.0px;top:1455.1px;font-size:33px;letter-spacing:0.523px;"><b>fundamentally new approach</b> to code generation.</div>
<div class="ln " id="l17" style="left:119.0px;top:1532.7px;font-size:33px;letter-spacing:0.430px;">Prior methods rely on <b>sequential iterative refinements</b>: generating an entire code</div>
<div class="ln " id="l18" style="left:119.0px;top:1581.4px;font-size:33px;letter-spacing:0.476px;">block, testing it, and then attempting a fix. They only react after a full program is</div>
<div class="ln " id="l19" style="left:119.0px;top:1632.6px;font-size:33px;letter-spacing:0.379px;">written.&nbsp; In contrast, <span class="tt">EG-CFG</span> takes a human-like approach, building solutions <b>one</b></div>
<div class="ln " id="l20" style="left:119.0px;top:1683.1px;font-size:33px;letter-spacing:0.457px;"><b>line at a time</b>. After each line, the model pauses to explore different possibilities</div>
<div class="ln " id="l21" style="left:119.0px;top:1733.7px;font-size:33px;letter-spacing:0.519px;">and observe how the program behaves as it’s being written rather than waiting until</div>
<div class="ln " id="l22" style="left:119.0px;top:1781.8px;font-size:33px;letter-spacing:0.455px;">the end. This is the shift from <b>sequential refinement</b> to <b>continuous, line-by-line</b></div>
<div class="ln " id="l23" style="left:119.0px;top:1829.9px;font-size:33px;letter-spacing:-0.254px;"><b>guidance</b>.</div>
<div class="ln " id="l24" style="left:122.5px;top:2464.6px;font-size:33.5px;letter-spacing:0.116px;">Instead of relying on explicit supervision using simple pass/fail signals, <span class="tt">EG-CFG</span></div>
<div class="ln " id="l25" style="left:122.5px;top:2514.6px;font-size:33.5px;letter-spacing:0.211px;">performs <b>implicit supervision</b> using <b>rich execution traces</b>, allowing the model to</div>
<div class="ln " id="l26" style="left:122.5px;top:2563.3px;font-size:33.5px;letter-spacing:0.203px;">observe how its code behaves. These structured representation provide a step-by-</div>
<div class="ln " id="l27" style="left:122.5px;top:2611.4px;font-size:33.5px;letter-spacing:0.217px;">step view of the program’s runtime behavior, capturing everything from variable</div>
<div class="ln " id="l28" style="left:122.5px;top:2662.0px;font-size:33.5px;letter-spacing:0.192px;">values and types to function returns and errors. This gives the model understanding</div>
<div class="ln " id="l29" style="left:122.5px;top:2710.0px;font-size:33.5px;letter-spacing:0.171px;">about not just whether the code worked, but how it worked or why it failed.</div>
<div class="ln " id="l30" style="left:1468.5px;top:1306.9px;font-size:33px;letter-spacing:0.362px;">At each line of code, <span class="tt">EG-CFG</span> samples multiple possible continuations using <b>beam</b></div>
<div class="ln " id="l31" style="left:1468.5px;top:1356.3px;font-size:33px;letter-spacing:0.170px;"><b>search (1)</b>. These candidates are executed, and their feedback is aggregated into a</div>
<div class="ln " id="l32" style="left:1468.5px;top:1405.1px;font-size:33px;letter-spacing:0.538px;">single <b>dynamic signal (2)</b> that is injected back into the prompt <b>(3)</b>. The model now</div>
<div class="ln " id="l33" style="left:1468.5px;top:1454.5px;font-size:33px;letter-spacing:0.407px;">sees not just the current code, but also how future possibilities behave at runtime.</div>
<div class="ln " id="l34" style="left:1468.5px;top:1503.9px;font-size:33px;letter-spacing:0.192px;">Finally, <b>Classifier-Free Guidance (CFG)</b> blends the model's standard predictions with</div>
<div class="ln " id="l35" style="left:1468.5px;top:1552.7px;font-size:33px;letter-spacing:0.419px;">predictions shaped by this execution signal, steering the final generation toward a</div>
<div class="ln " id="l36" style="left:1468.5px;top:1601.5px;font-size:33px;letter-spacing:0.602px;">correct solution <b>(4)</b>.</div>
<div class="ln " id="l37" style="left:1468.5px;top:2389.8px;font-size:33px;letter-spacing:0.415px;">Traditional methods cannot fully leverage parallelism because their logic depends on</div>
<div class="ln " id="l38" style="left:1468.5px;top:2437.5px;font-size:33px;letter-spacing:0.378px;"><b>sequential refinement</b>, where each cycle must wait for the previous one to finish.</div>
<div class="ln " id="l39" style="left:1468.5px;top:2517.8px;font-size:33px;letter-spacing:0.336px;">In contrast, <span class="tt">EG-CFG</span> was designed for <b>native parallelism</b>. It employs a multi-agent</div>
<div class="ln " id="l40" style="left:1468.5px;top:2569.0px;font-size:33px;letter-spacing:0.387px;">approach where each agent works on the same task but with a different</div>
<div class="ln " id="l41" style="left:1468.5px;top:2617.2px;font-size:33px;letter-spacing:0.416px;">configuration, such as sampling temperature or number of candidate continuations.</div>
<div class="ln " id="l42" style="left:1468.5px;top:2665.4px;font-size:33px;letter-spacing:0.318px;">This allows them to explore diverse reasoning paths simultaneously, enabling faster,</div>
<div class="ln " id="l43" style="left:1468.5px;top:2713.1px;font-size:33px;letter-spacing:0.281px;">deeper, and more scalable exploration.</div>
<div class="ln " id="l44" style="left:2784.5px;top:441.6px;font-size:33.5px;letter-spacing:0.144px;">Using the open-source <b><i>DeepSeek-V3 model</i></b>, our experiments demonstrate that <span class="tt">EG-CFG</span></div>
<div class="ln " id="l45" style="left:2784.5px;top:491.6px;font-size:33.5px;letter-spacing:0.179px;">significantly improves code generation performance, <b>achieving state-of-the-art results</b></div>
<div class="ln " id="l46" style="left:2784.5px;top:540.6px;font-size:33.5px;letter-spacing:0.213px;">across various levels of complexity.</div>
<div class="ln " id="l47" style="left:2784.5px;top:616.9px;font-size:33.5px;letter-spacing:0.187px;">This includes foundational problems (<b><i>MBPP</i></b>: <b>96.6%</b>; <b><i>HumanEval</i></b>: <b>99.4%</b>), challenging data</div>
<div class="ln " id="l48" style="left:2784.5px;top:665.6px;font-size:33.5px;letter-spacing:0.196px;">science tasks (<b><i>DS-1000</i></b>: <b>69.9%</b>), and competitive programming problems (<b><i>CodeContests</i></b>:</div>
<div class="ln " id="l49" style="left:2784.5px;top:715.8px;font-size:33.5px;letter-spacing:0.198px;"><b>60.6%</b>). Furthermore, <span class="tt">EG-CFG</span> establishes new SOTA results on the more rigorous variants</div>
<div class="ln " id="l50" style="left:2784.5px;top:767.6px;font-size:33.5px;letter-spacing:0.189px;">(<b><i>MBPP-ET</i></b>: <b>73.0%</b>; <b><i>HumanEval-ET</i></b>: <b>89.02%</b>), highlighting the method's robustness and</div>
<div class="ln " id="l51" style="left:2784.5px;top:816.5px;font-size:33.5px;letter-spacing:0.067px;">ability to generalize.</div>
<div class="ln " id="l52" style="left:3140.5px;top:130.6px;font-size:35px;color:#222222;transform:scaleX(0.9048);transform-origin:0 0;"><b>The Raymond and</b></div>
<div class="ln " id="l53" style="left:3140.5px;top:168.5px;font-size:35px;color:#222222;transform:scaleX(0.9313);transform-origin:0 0;"><b>Beverly Sackler Faculty</b></div>
<div class="ln " id="l54" style="left:3140.5px;top:205.2px;font-size:35px;color:#222222;transform:scaleX(0.8987);transform-origin:0 0;"><b>of Exact Sciences</b></div>
<div class="ln " id="l55" style="left:3140.5px;top:242.6px;font-size:35px;color:#222222;transform:scaleX(0.9044);transform-origin:0 0;">Tel Aviv University</div>
<div class="ln " id="l56" style="left:3660.0px;top:175.6px;font-size:39px;color:#33363b;letter-spacing:1.842px;">NEURAL INFORMATION</div>
<div class="ln " id="l57" style="left:3662.0px;top:220.0px;font-size:39px;color:#33363b;letter-spacing:0.573px;">PROCESSING SYSTEMS</div>
</div></body></html>
